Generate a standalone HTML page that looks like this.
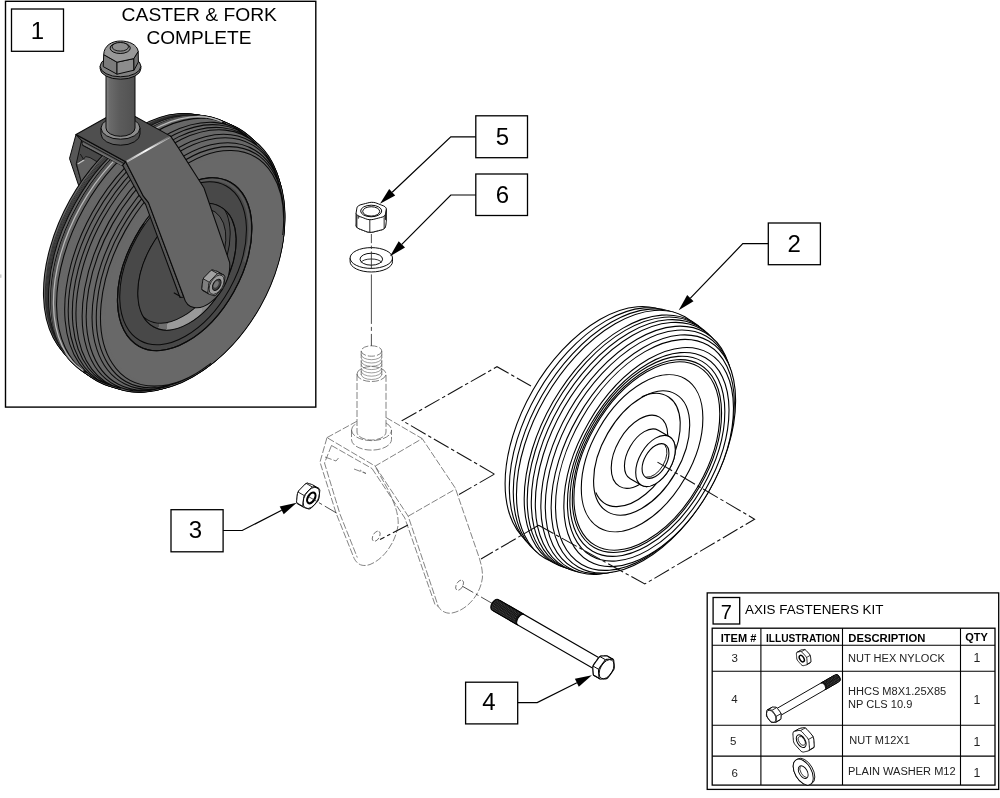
<!DOCTYPE html>
<html><head><meta charset="utf-8"><title>Caster &amp; Fork</title>
<style>
html,body{margin:0;padding:0;background:#fff;}
body{width:1000px;height:798px;overflow:hidden;}
svg{display:block;font-family:"Liberation Sans",sans-serif;}
svg{filter:grayscale(1);}
</style></head><body>
<svg width="1000" height="798" viewBox="0 0 1000 798">
<rect width="1000" height="798" fill="#fff"/>
<rect x="5.5" y="1.3" width="310.3" height="405.8" fill="#fff" stroke="#000" stroke-width="1.4"/>
<g fill="#fff" stroke="#000" stroke-width="1.1">
<ellipse cx="599.81" cy="428.85" rx="134.00" ry="77.32" transform="rotate(-60.00 599.81 428.85)" />
<ellipse cx="605.79" cy="432.30" rx="136.50" ry="78.76" transform="rotate(-60.00 605.79 432.30)" />
<ellipse cx="611.16" cy="435.40" rx="138.50" ry="79.91" transform="rotate(-60.00 611.16 435.40)" />
<ellipse cx="615.14" cy="437.70" rx="139.60" ry="80.55" transform="rotate(-60.00 615.14 437.70)" />
<ellipse cx="622.59" cy="442.00" rx="139.20" ry="80.32" transform="rotate(-60.00 622.59 442.00)" />
<ellipse cx="625.19" cy="443.50" rx="138.60" ry="79.97" transform="rotate(-60.00 625.19 443.50)" />
<ellipse cx="628.83" cy="445.60" rx="138.00" ry="79.63" transform="rotate(-60.00 628.83 445.60)" />
<ellipse cx="632.29" cy="447.60" rx="137.20" ry="79.16" transform="rotate(-60.00 632.29 447.60)" />
<ellipse cx="636.97" cy="450.30" rx="136.00" ry="78.47" transform="rotate(-60.00 636.97 450.30)" />
<ellipse cx="639.65" cy="451.85" rx="133.50" ry="77.03" transform="rotate(-60.00 639.65 451.85)" />
<ellipse cx="643.38" cy="454.00" rx="130.50" ry="75.30" transform="rotate(-60.00 643.38 454.00)" />
<ellipse cx="644.93" cy="454.90" rx="126.50" ry="72.99" transform="rotate(-60.00 644.93 454.90)" />
<ellipse cx="648.66" cy="457.05" rx="120.00" ry="69.24" transform="rotate(-60.00 648.66 457.05)" />
<ellipse cx="648.23" cy="456.80" rx="114.30" ry="65.95" transform="rotate(-60.00 648.23 456.80)" />
<ellipse cx="647.36" cy="456.30" rx="109.60" ry="63.24" transform="rotate(-60.00 647.36 456.30)" />
<ellipse cx="646.93" cy="456.05" rx="105.60" ry="60.93" transform="rotate(-60.00 646.93 456.05)" />
<ellipse cx="646.84" cy="456.00" rx="103.20" ry="59.55" transform="rotate(-60.00 646.84 456.00)" />
<ellipse cx="642.08" cy="453.25" rx="86.00" ry="49.62" transform="rotate(-60.00 642.08 453.25)" />
<ellipse cx="641.64" cy="453.00" rx="68.00" ry="39.24" transform="rotate(-60.00 641.64 453.00)" />
<path d="M641.80 396.68 A62.00 35.77 -60.00 1 1 595.81 492.44 " fill="none"/>
<ellipse cx="639.48" cy="451.75" rx="40.00" ry="23.08" transform="rotate(-60.00 639.48 451.75)" />
<path d="M658.24 430.25 A28.00 16.16 -60.00 0 0 630.24 478.75 L641.50 485.25 A28.00 16.16 -60.00 0 0 669.50 436.75 Z"/>
<ellipse cx="655.50" cy="461.00" rx="28.00" ry="16.16" transform="rotate(-60.00 655.50 461.00)" />
<ellipse cx="655.50" cy="461.00" rx="19.00" ry="10.96" transform="rotate(-60.00 655.50 461.00)" />
<path d="M664.77 444.89 A19.00 10.96 -60.00 0 1 646.19 477.08 " fill="none" stroke-width="0.9"/>
</g>
<defs><linearGradient id="bev" gradientUnits="userSpaceOnUse" x1="150" y1="300" x2="215" y2="312"><stop offset="0" stop-color="#4c4d50"/><stop offset="0.2" stop-color="#4c4d50"/><stop offset="0.2" stop-color="#6e6f72"/><stop offset="0.325" stop-color="#6e6f72"/><stop offset="0.325" stop-color="#999a9d"/><stop offset="0.8" stop-color="#98999c"/><stop offset="0.8" stop-color="#88898c"/><stop offset="0.97" stop-color="#88898c"/><stop offset="0.97" stop-color="#4c4d50"/><stop offset="1" stop-color="#4c4d50"/></linearGradient><clipPath id="dishclip"><ellipse cx="187.00" cy="266.80" rx="68.70" ry="41.22" transform="rotate(-60.80 187.00 266.80)" /></clipPath></defs>
<g id="caster">
<path d="M76 134.5 L69.5 158.5 L79.5 188 L100 186 L124 166 L125.7 161.7 Z" fill="#56575a" stroke="#0a0a0a" stroke-width="1"/>
<path d="M81.5 140.5 L124 163.5 L122 166 L100 184 L81.5 182.5 L76.2 164 Z" fill="#47484b" stroke="#0a0a0a" stroke-width="0.9"/>
<path d="M82.6 143.6 L121 164.6" fill="none" stroke="#707174" stroke-width="1.6"/>
<path d="M82.9 145.4 L119 165.4" fill="none" stroke="#0a0a0a" stroke-width="0.7"/>
<path d="M76.5 164 L81.5 182.5 L95 180 L100 163.5 L90 157.6 L85.6 156.6 L83.5 159.3 Z" fill="#5f6063" stroke="#0a0a0a" stroke-width="0.8"/>
<path d="M77 163.4 L83.5 159.5 L84.6 160.6 L78.5 164.3 Z" fill="#bbbcbe" stroke="none"/>
<path d="M80.3 154 L83.5 159.3" fill="none" stroke="#0a0a0a" stroke-width="0.8"/>
<ellipse cx="142.50" cy="240.62" rx="137.00" ry="82.20" transform="rotate(-60.80 142.50 240.62)" fill="#0a0a0a" stroke="#0a0a0a" stroke-width="3.0"/>
<ellipse cx="143.82" cy="241.35" rx="137.58" ry="82.55" transform="rotate(-60.80 143.82 241.35)" fill="#0a0a0a" stroke="#0a0a0a" stroke-width="3.0"/>
<ellipse cx="145.14" cy="242.09" rx="138.17" ry="82.90" transform="rotate(-60.80 145.14 242.09)" fill="#0a0a0a" stroke="#0a0a0a" stroke-width="3.0"/>
<ellipse cx="146.46" cy="242.83" rx="138.75" ry="83.25" transform="rotate(-60.80 146.46 242.83)" fill="#0a0a0a" stroke="#0a0a0a" stroke-width="3.0"/>
<ellipse cx="147.78" cy="243.57" rx="139.33" ry="83.60" transform="rotate(-60.80 147.78 243.57)" fill="#0a0a0a" stroke="#0a0a0a" stroke-width="3.0"/>
<ellipse cx="149.10" cy="244.31" rx="139.92" ry="83.95" transform="rotate(-60.80 149.10 244.31)" fill="#0a0a0a" stroke="#0a0a0a" stroke-width="3.0"/>
<ellipse cx="150.42" cy="245.04" rx="140.50" ry="84.30" transform="rotate(-60.80 150.42 245.04)" fill="#0a0a0a" stroke="#0a0a0a" stroke-width="3.0"/>
<ellipse cx="151.74" cy="245.78" rx="141.08" ry="84.65" transform="rotate(-60.80 151.74 245.78)" fill="#0a0a0a" stroke="#0a0a0a" stroke-width="3.0"/>
<ellipse cx="153.06" cy="246.52" rx="141.67" ry="85.00" transform="rotate(-60.80 153.06 246.52)" fill="#0a0a0a" stroke="#0a0a0a" stroke-width="3.0"/>
<ellipse cx="154.38" cy="247.26" rx="142.25" ry="85.35" transform="rotate(-60.80 154.38 247.26)" fill="#0a0a0a" stroke="#0a0a0a" stroke-width="3.0"/>
<ellipse cx="155.70" cy="248.00" rx="142.51" ry="85.50" transform="rotate(-60.80 155.70 248.00)" fill="#0a0a0a" stroke="#0a0a0a" stroke-width="3.0"/>
<ellipse cx="157.02" cy="248.73" rx="142.65" ry="85.59" transform="rotate(-60.80 157.02 248.73)" fill="#0a0a0a" stroke="#0a0a0a" stroke-width="3.0"/>
<ellipse cx="158.34" cy="249.47" rx="142.79" ry="85.67" transform="rotate(-60.80 158.34 249.47)" fill="#0a0a0a" stroke="#0a0a0a" stroke-width="3.0"/>
<ellipse cx="159.67" cy="250.21" rx="142.93" ry="85.76" transform="rotate(-60.80 159.67 250.21)" fill="#0a0a0a" stroke="#0a0a0a" stroke-width="3.0"/>
<ellipse cx="160.99" cy="250.95" rx="143.07" ry="85.84" transform="rotate(-60.80 160.99 250.95)" fill="#0a0a0a" stroke="#0a0a0a" stroke-width="3.0"/>
<ellipse cx="162.31" cy="251.69" rx="143.21" ry="85.93" transform="rotate(-60.80 162.31 251.69)" fill="#0a0a0a" stroke="#0a0a0a" stroke-width="3.0"/>
<ellipse cx="163.63" cy="252.42" rx="143.35" ry="86.01" transform="rotate(-60.80 163.63 252.42)" fill="#0a0a0a" stroke="#0a0a0a" stroke-width="3.0"/>
<ellipse cx="164.95" cy="253.16" rx="143.49" ry="86.10" transform="rotate(-60.80 164.95 253.16)" fill="#0a0a0a" stroke="#0a0a0a" stroke-width="3.0"/>
<ellipse cx="166.27" cy="253.90" rx="143.63" ry="86.18" transform="rotate(-60.80 166.27 253.90)" fill="#0a0a0a" stroke="#0a0a0a" stroke-width="3.0"/>
<ellipse cx="167.59" cy="254.64" rx="143.78" ry="86.27" transform="rotate(-60.80 167.59 254.64)" fill="#0a0a0a" stroke="#0a0a0a" stroke-width="3.0"/>
<ellipse cx="168.91" cy="255.38" rx="143.52" ry="86.11" transform="rotate(-60.80 168.91 255.38)" fill="#0a0a0a" stroke="#0a0a0a" stroke-width="3.0"/>
<ellipse cx="170.23" cy="256.12" rx="143.19" ry="85.91" transform="rotate(-60.80 170.23 256.12)" fill="#0a0a0a" stroke="#0a0a0a" stroke-width="3.0"/>
<ellipse cx="171.55" cy="256.85" rx="142.86" ry="85.71" transform="rotate(-60.80 171.55 256.85)" fill="#0a0a0a" stroke="#0a0a0a" stroke-width="3.0"/>
<ellipse cx="172.87" cy="257.59" rx="142.53" ry="85.52" transform="rotate(-60.80 172.87 257.59)" fill="#0a0a0a" stroke="#0a0a0a" stroke-width="3.0"/>
<ellipse cx="174.19" cy="258.33" rx="142.19" ry="85.32" transform="rotate(-60.80 174.19 258.33)" fill="#0a0a0a" stroke="#0a0a0a" stroke-width="3.0"/>
<ellipse cx="175.51" cy="259.07" rx="141.86" ry="85.12" transform="rotate(-60.80 175.51 259.07)" fill="#0a0a0a" stroke="#0a0a0a" stroke-width="3.0"/>
<ellipse cx="176.83" cy="259.81" rx="141.53" ry="84.92" transform="rotate(-60.80 176.83 259.81)" fill="#0a0a0a" stroke="#0a0a0a" stroke-width="3.0"/>
<ellipse cx="178.15" cy="260.54" rx="141.19" ry="84.72" transform="rotate(-60.80 178.15 260.54)" fill="#0a0a0a" stroke="#0a0a0a" stroke-width="3.0"/>
<ellipse cx="179.47" cy="261.28" rx="140.86" ry="84.52" transform="rotate(-60.80 179.47 261.28)" fill="#0a0a0a" stroke="#0a0a0a" stroke-width="3.0"/>
<ellipse cx="180.79" cy="262.02" rx="140.53" ry="84.32" transform="rotate(-60.80 180.79 262.02)" fill="#0a0a0a" stroke="#0a0a0a" stroke-width="3.0"/>
<ellipse cx="182.11" cy="262.76" rx="139.35" ry="83.61" transform="rotate(-60.80 182.11 262.76)" fill="#0a0a0a" stroke="#0a0a0a" stroke-width="3.0"/>
<ellipse cx="183.44" cy="263.50" rx="138.09" ry="82.85" transform="rotate(-60.80 183.44 263.50)" fill="#0a0a0a" stroke="#0a0a0a" stroke-width="3.0"/>
<ellipse cx="184.76" cy="264.23" rx="136.82" ry="82.09" transform="rotate(-60.80 184.76 264.23)" fill="#0a0a0a" stroke="#0a0a0a" stroke-width="3.0"/>
<ellipse cx="186.08" cy="264.97" rx="135.56" ry="81.34" transform="rotate(-60.80 186.08 264.97)" fill="#0a0a0a" stroke="#0a0a0a" stroke-width="3.0"/>
<ellipse cx="187.40" cy="265.71" rx="134.30" ry="80.58" transform="rotate(-60.80 187.40 265.71)" fill="#0a0a0a" stroke="#0a0a0a" stroke-width="3.0"/>
<ellipse cx="188.72" cy="266.45" rx="133.04" ry="79.83" transform="rotate(-60.80 188.72 266.45)" fill="#0a0a0a" stroke="#0a0a0a" stroke-width="3.0"/>
<ellipse cx="190.04" cy="267.19" rx="131.05" ry="78.63" transform="rotate(-60.80 190.04 267.19)" fill="#0a0a0a" stroke="#0a0a0a" stroke-width="3.0"/>
<ellipse cx="191.36" cy="267.92" rx="129.03" ry="77.42" transform="rotate(-60.80 191.36 267.92)" fill="#0a0a0a" stroke="#0a0a0a" stroke-width="3.0"/>
<ellipse cx="192.68" cy="268.66" rx="127.02" ry="76.21" transform="rotate(-60.80 192.68 268.66)" fill="#0a0a0a" stroke="#0a0a0a" stroke-width="3.0"/>
<ellipse cx="194.00" cy="269.40" rx="125.00" ry="75.00" transform="rotate(-60.80 194.00 269.40)" fill="#0a0a0a" stroke="#0a0a0a" stroke-width="3.0"/>
<ellipse cx="142.50" cy="240.62" rx="137.00" ry="82.20" transform="rotate(-60.80 142.50 240.62)" fill="#67686b" stroke="#67686b" stroke-width="0.9"/>
<ellipse cx="143.82" cy="241.35" rx="137.58" ry="82.55" transform="rotate(-60.80 143.82 241.35)" fill="#67686b" stroke="#67686b" stroke-width="0.9"/>
<ellipse cx="145.14" cy="242.09" rx="138.17" ry="82.90" transform="rotate(-60.80 145.14 242.09)" fill="#67686b" stroke="#67686b" stroke-width="0.9"/>
<ellipse cx="146.46" cy="242.83" rx="138.75" ry="83.25" transform="rotate(-60.80 146.46 242.83)" fill="#67686b" stroke="#67686b" stroke-width="0.9"/>
<ellipse cx="147.78" cy="243.57" rx="139.33" ry="83.60" transform="rotate(-60.80 147.78 243.57)" fill="#67686b" stroke="#67686b" stroke-width="0.9"/>
<ellipse cx="149.10" cy="244.31" rx="139.92" ry="83.95" transform="rotate(-60.80 149.10 244.31)" fill="#67686b" stroke="#67686b" stroke-width="0.9"/>
<ellipse cx="150.42" cy="245.04" rx="140.50" ry="84.30" transform="rotate(-60.80 150.42 245.04)" fill="#67686b" stroke="#67686b" stroke-width="0.9"/>
<ellipse cx="151.74" cy="245.78" rx="141.08" ry="84.65" transform="rotate(-60.80 151.74 245.78)" fill="#67686b" stroke="#67686b" stroke-width="0.9"/>
<ellipse cx="153.06" cy="246.52" rx="141.67" ry="85.00" transform="rotate(-60.80 153.06 246.52)" fill="#67686b" stroke="#67686b" stroke-width="0.9"/>
<ellipse cx="154.38" cy="247.26" rx="142.25" ry="85.35" transform="rotate(-60.80 154.38 247.26)" fill="#67686b" stroke="#67686b" stroke-width="0.9"/>
<ellipse cx="155.70" cy="248.00" rx="142.51" ry="85.50" transform="rotate(-60.80 155.70 248.00)" fill="#67686b" stroke="#67686b" stroke-width="0.9"/>
<ellipse cx="157.02" cy="248.73" rx="142.65" ry="85.59" transform="rotate(-60.80 157.02 248.73)" fill="#67686b" stroke="#67686b" stroke-width="0.9"/>
<ellipse cx="158.34" cy="249.47" rx="142.79" ry="85.67" transform="rotate(-60.80 158.34 249.47)" fill="#67686b" stroke="#67686b" stroke-width="0.9"/>
<ellipse cx="159.67" cy="250.21" rx="142.93" ry="85.76" transform="rotate(-60.80 159.67 250.21)" fill="#67686b" stroke="#67686b" stroke-width="0.9"/>
<ellipse cx="160.99" cy="250.95" rx="143.07" ry="85.84" transform="rotate(-60.80 160.99 250.95)" fill="#67686b" stroke="#67686b" stroke-width="0.9"/>
<ellipse cx="162.31" cy="251.69" rx="143.21" ry="85.93" transform="rotate(-60.80 162.31 251.69)" fill="#67686b" stroke="#67686b" stroke-width="0.9"/>
<ellipse cx="163.63" cy="252.42" rx="143.35" ry="86.01" transform="rotate(-60.80 163.63 252.42)" fill="#67686b" stroke="#67686b" stroke-width="0.9"/>
<ellipse cx="164.95" cy="253.16" rx="143.49" ry="86.10" transform="rotate(-60.80 164.95 253.16)" fill="#67686b" stroke="#67686b" stroke-width="0.9"/>
<ellipse cx="166.27" cy="253.90" rx="143.63" ry="86.18" transform="rotate(-60.80 166.27 253.90)" fill="#67686b" stroke="#67686b" stroke-width="0.9"/>
<ellipse cx="167.59" cy="254.64" rx="143.78" ry="86.27" transform="rotate(-60.80 167.59 254.64)" fill="#67686b" stroke="#67686b" stroke-width="0.9"/>
<ellipse cx="168.91" cy="255.38" rx="143.52" ry="86.11" transform="rotate(-60.80 168.91 255.38)" fill="#67686b" stroke="#67686b" stroke-width="0.9"/>
<ellipse cx="170.23" cy="256.12" rx="143.19" ry="85.91" transform="rotate(-60.80 170.23 256.12)" fill="#67686b" stroke="#67686b" stroke-width="0.9"/>
<ellipse cx="171.55" cy="256.85" rx="142.86" ry="85.71" transform="rotate(-60.80 171.55 256.85)" fill="#67686b" stroke="#67686b" stroke-width="0.9"/>
<ellipse cx="172.87" cy="257.59" rx="142.53" ry="85.52" transform="rotate(-60.80 172.87 257.59)" fill="#67686b" stroke="#67686b" stroke-width="0.9"/>
<ellipse cx="174.19" cy="258.33" rx="142.19" ry="85.32" transform="rotate(-60.80 174.19 258.33)" fill="#67686b" stroke="#67686b" stroke-width="0.9"/>
<ellipse cx="175.51" cy="259.07" rx="141.86" ry="85.12" transform="rotate(-60.80 175.51 259.07)" fill="#67686b" stroke="#67686b" stroke-width="0.9"/>
<ellipse cx="176.83" cy="259.81" rx="141.53" ry="84.92" transform="rotate(-60.80 176.83 259.81)" fill="#67686b" stroke="#67686b" stroke-width="0.9"/>
<ellipse cx="178.15" cy="260.54" rx="141.19" ry="84.72" transform="rotate(-60.80 178.15 260.54)" fill="#67686b" stroke="#67686b" stroke-width="0.9"/>
<ellipse cx="179.47" cy="261.28" rx="140.86" ry="84.52" transform="rotate(-60.80 179.47 261.28)" fill="#67686b" stroke="#67686b" stroke-width="0.9"/>
<ellipse cx="180.79" cy="262.02" rx="140.53" ry="84.32" transform="rotate(-60.80 180.79 262.02)" fill="#67686b" stroke="#67686b" stroke-width="0.9"/>
<ellipse cx="182.11" cy="262.76" rx="139.35" ry="83.61" transform="rotate(-60.80 182.11 262.76)" fill="#67686b" stroke="#67686b" stroke-width="0.9"/>
<ellipse cx="183.44" cy="263.50" rx="138.09" ry="82.85" transform="rotate(-60.80 183.44 263.50)" fill="#67686b" stroke="#67686b" stroke-width="0.9"/>
<ellipse cx="184.76" cy="264.23" rx="136.82" ry="82.09" transform="rotate(-60.80 184.76 264.23)" fill="#67686b" stroke="#67686b" stroke-width="0.9"/>
<ellipse cx="186.08" cy="264.97" rx="135.56" ry="81.34" transform="rotate(-60.80 186.08 264.97)" fill="#67686b" stroke="#67686b" stroke-width="0.9"/>
<ellipse cx="187.40" cy="265.71" rx="134.30" ry="80.58" transform="rotate(-60.80 187.40 265.71)" fill="#67686b" stroke="#67686b" stroke-width="0.9"/>
<ellipse cx="188.72" cy="266.45" rx="133.04" ry="79.83" transform="rotate(-60.80 188.72 266.45)" fill="#67686b" stroke="#67686b" stroke-width="0.9"/>
<ellipse cx="190.04" cy="267.19" rx="131.05" ry="78.63" transform="rotate(-60.80 190.04 267.19)" fill="#67686b" stroke="#67686b" stroke-width="0.9"/>
<ellipse cx="191.36" cy="267.92" rx="129.03" ry="77.42" transform="rotate(-60.80 191.36 267.92)" fill="#67686b" stroke="#67686b" stroke-width="0.9"/>
<ellipse cx="192.68" cy="268.66" rx="127.02" ry="76.21" transform="rotate(-60.80 192.68 268.66)" fill="#67686b" stroke="#67686b" stroke-width="0.9"/>
<ellipse cx="194.00" cy="269.40" rx="125.00" ry="75.00" transform="rotate(-60.80 194.00 269.40)" fill="#67686b" stroke="#67686b" stroke-width="0.9"/>
<path d="M66.57 354.61 A139.60 83.76 -60.80 0 1 199.81 116.21 M68.99 357.59 A141.05 84.63 -60.80 0 1 203.61 116.72 M86.61 372.92 A142.84 85.71 -60.80 0 1 225.90 123.69 M107.15 384.34 A143.78 86.27 -60.80 0 1 92.29 212.56 A143.78 86.27 -60.80 0 1 246.39 135.20 M113.43 386.27 A143.09 85.85 -60.80 0 1 95.71 214.47 A143.09 85.85 -60.80 0 1 251.32 139.54 M117.27 387.42 A142.21 85.32 -60.80 0 1 99.66 216.68 A142.21 85.32 -60.80 0 1 254.31 142.21 M120.63 388.43 A141.44 84.86 -60.80 0 1 103.12 218.61 A141.44 84.86 -60.80 0 1 256.94 144.54 M161.30 388.06 A139.46 83.67 -60.80 0 1 108.96 221.87 A139.46 83.67 -60.80 0 1 277.93 179.37 M164.04 387.35 A137.17 82.30 -60.80 0 1 112.56 223.88 A137.17 82.30 -60.80 0 1 278.76 182.08 M169.66 385.82 A133.83 80.30 -60.80 0 1 117.79 226.81 A133.83 80.30 -60.80 0 1 280.41 187.67 M208.01 365.44 A131.00 78.60 -60.80 0 1 121.46 228.86 A131.00 78.60 -60.80 0 1 283.14 231.01 M211.17 363.06 A127.93 76.76 -60.80 0 1 125.07 230.88 A127.93 76.76 -60.80 0 1 282.77 234.95 " fill="none" stroke="#0a0a0a" stroke-width="1.05"/>
<path d="M71.38 360.40 A141.86 85.12 -60.80 0 1 207.26 117.28 " fill="none" stroke="#55565a" stroke-width="2.3"/>
<path d="M63.11 350.37 A137.54 82.52 -60.80 0 1 194.38 115.49 M64.01 351.48 A138.08 82.85 -60.80 0 1 195.80 115.68 M64.92 352.59 A138.62 83.17 -60.80 0 1 197.22 115.87 M65.76 353.62 A139.12 83.47 -60.80 0 1 198.54 116.04 " fill="none" stroke="#1c1c1e" stroke-width="0.7"/>
<path d="M83.31 370.65 A142.47 85.48 -60.80 0 1 222.23 122.07 " fill="none" stroke="#b9babc" stroke-width="1.2"/>
<ellipse cx="184.66" cy="264.18" rx="93.90" ry="56.34" transform="rotate(-60.80 184.66 264.18)" fill="#48484b" stroke="#0a0a0a" stroke-width="1.1"/>
<path d="M176.02 191.90 A91.60 54.96 -60.80 0 1 244.42 261.69 " fill="none" stroke="#58595c" stroke-width="2.4"/>
<path d="M144.56 223.55 A91.60 54.96 -60.80 0 1 176.02 191.90 " fill="none" stroke="#88898c" stroke-width="2.4"/>
<ellipse cx="184.66" cy="264.18" rx="93.90" ry="56.34" transform="rotate(-60.80 184.66 264.18)" fill="none" stroke="#0a0a0a" stroke-width="1.1"/>
<ellipse cx="183.09" cy="263.30" rx="88.50" ry="53.10" transform="rotate(-60.80 183.09 263.30)" fill="#48484b" stroke="#0a0a0a" stroke-width="1"/>
<path d="M220.52 206.83 A68.70 41.22 -60.80 0 1 153.48 326.77 A68.70 41.22 -60.80 0 1 220.52 206.83 Z" fill="#4c4d50" stroke="#0a0a0a" stroke-width="1"/>
<clipPath id="bevclip"><rect x="130" y="293" width="86" height="50"/></clipPath>
<path d="M220.52 206.83 A68.70 41.22 -60.80 0 1 153.48 326.77 A68.70 41.22 -60.80 0 1 220.52 206.83 Z" fill="url(#bev)" stroke="none" clip-path="url(#bevclip)"/>
<g clip-path="url(#dishclip)"><ellipse cx="181.00" cy="259.80" rx="68.70" ry="41.22" transform="rotate(-60.80 181.00 259.80)" fill="#4b4b4e" stroke="#0a0a0a" stroke-width="0.9"/><path d="M164.11 234.34 A53.80 32.28 -60.80 1 1 204.80 288.86 " fill="#56575a" stroke="#0a0a0a" stroke-width="0.9"/></g>
<ellipse cx="187.00" cy="266.80" rx="68.70" ry="41.22" transform="rotate(-60.80 187.00 266.80)" fill="none" stroke="#0a0a0a" stroke-width="1"/>
</g>
<g id="fork" stroke="#0a0a0a" stroke-width="1.05" stroke-linejoin="round">
<path d="M125.7 161.7 L143.4 196.2 L148.5 202.6 L183.8 297.0 L180.0 297.5 L145.6 204.4 L138.6 194.6 L122.5 165 Z" fill="#57585b"/>
<path d="M125.7 161.7 L170.6 136.1 L178.6 148.1 L204 188 L229.6 262.3 A32.40 19.44 -60.00 0 1 183.84 297.04 L148.5 202.6 L143.4 196.2 Z" fill="#646568"/>
<path d="M173.8 292.8 L180.4 296.5" fill="none"/>
<path d="M76 134.5 L125.7 161.7 L122.3 165.6 L82.9 145.4 L81.5 140.5 Z" fill="#56575a"/>
<path d="M81.5 140.5 L124 163.5" fill="none" stroke-width="0.8"/>
<path d="M82.6 143.4 L122 164.9" fill="none" stroke="#707174" stroke-width="1.5"/>
<path d="M76 134.5 L121.5 109 L170.6 136.1 L125.7 161.7 Z" fill="#4f4f52"/>
</g>
<defs><linearGradient id="hl" gradientUnits="userSpaceOnUse" x1="125.7" y1="161.7" x2="170.6" y2="136.4"><stop offset="0" stop-color="#fff" stop-opacity="0.55"/><stop offset="0.45" stop-color="#fff" stop-opacity="1"/><stop offset="1" stop-color="#fff" stop-opacity="0.35"/></linearGradient></defs>
<path d="M126.5 161.6 L170 136.8" stroke="url(#hl)" stroke-width="2.1" fill="none"/>
<defs>
<linearGradient id="stemg" x1="0" x2="1" y1="0" y2="0"><stop offset="0" stop-color="#85868a"/><stop offset="0.12" stop-color="#6a6b6e"/><stop offset="0.45" stop-color="#5b5c5f"/><stop offset="1" stop-color="#505154"/></linearGradient>
<linearGradient id="colg" x1="0" x2="1" y1="0" y2="0"><stop offset="0" stop-color="#6c6d70"/><stop offset="0.5" stop-color="#5a5b5e"/><stop offset="1" stop-color="#4c4d50"/></linearGradient>
</defs>
<g id="stem" stroke="#0a0a0a" stroke-width="1">
<path d="M101.0 128 L101.0 134 A19.5 11.2 0 0 0 140.0 134 L140.0 128 Z" fill="url(#colg)"/>
<ellipse cx="120.5" cy="128" rx="19.5" ry="11.2" fill="#8b8c8f"/>
<path d="M106.0 70 L106.0 128 A14.5 8.3 0 0 0 135.0 128 L135.0 70 Z" fill="url(#stemg)"/>
<path d="M100.1 66.2 L100.1 68.6 A20.4 10.6 0 0 0 140.9 68.6 L140.9 66.2 Z" fill="#6f7073"/>
<ellipse cx="120.5" cy="66.2" rx="20.4" ry="10.6" fill="#808184"/>
<path d="M103.2 66.6 L103.7 54.6 L117 62.2 L117 74.2 Z" fill="#7a7b7e"/>
<path d="M117 74.2 L117 62.2 L133.8 58.6 L134 70.2 Z" fill="#8b8c8f"/>
<path d="M134 70.2 L133.8 58.6 L138.2 51.4 L138.4 62 Z" fill="#707174"/>
<path d="M103.7 54.6 C104 45.5 112 41 120.5 41 C129 41 137.2 44.6 138.2 51.4 L133.8 58.6 L117 62.2 Z" fill="#97989b"/>
<ellipse cx="120.2" cy="48.1" rx="10.1" ry="5.4" fill="#8a8b8e"/>
<ellipse cx="120.3" cy="46.8" rx="8.2" ry="4.3" fill="#8d8e91" stroke-width="0.9"/>
</g>
<g id="phantomfork" stroke="#5a5a5a" stroke-width="0.75" fill="none" stroke-dasharray="7 2">
<ellipse cx="371.5" cy="351" rx="10.3" ry="5.2"/>
<path d="M361.2 351 V375 M381.8 351 V375"/>
<path d="M361.2 354.5 A10.3 5.2 0 0 0 381.8 354.5 M361.2 357.8 A10.3 5.2 0 0 0 381.8 357.8 M361.2 361.1 A10.3 5.2 0 0 0 381.8 361.1 M361.2 364.4 A10.3 5.2 0 0 0 381.8 364.4 M361.2 367.7 A10.3 5.2 0 0 0 381.8 367.7 M361.2 371.0 A10.3 5.2 0 0 0 381.8 371.0 M361.2 374.3 A10.3 5.2 0 0 0 381.8 374.3 " stroke-dasharray="none" stroke-width="0.6"/>
<path d="M357.0 374 A14.5 7.5 0 0 1 386.0 374 M357.0 374 V432 A14.5 8 0 0 0 386.0 432 V374 M357.0 374 A14.5 7.5 0 0 0 386.0 374"/>
<path d="M351.5 430 A20 10.6 0 0 0 391.5 430 M351.5 430 V439.5 A20 10.6 0 0 0 391.5 439.5 V430 M351.5 430 A20 10.6 0 0 1 357.0 423 M386.0 423 A20 10.6 0 0 1 391.5 430"/>
<path d="M327 437.6 L357 421.2 M386.2 417.6 L422.2 438.6 L375.2 466.1 L327 437.6"/>
<path d="M331.5 445.5 L372 468.5"/>
<path d="M327 437.6 L320 462.1 L336.1 513.2 L354.1 558.3 C358 566 364 566.5 370 564.5 C384 559 396 542 398.2 524.2 C398.5 513 394 502 388.2 490.1 L375.2 466.5"/>
<path d="M331.5 445.5 L324.5 463 L340 514.2 L357.3 557.5"/>
<path d="M325 457 L336 461 L338.5 458 M354 469 L366 473.5 L360 470"/>
<path d="M375.2 466.1 L408.2 516.2 L438.2 606.3 C441 611.5 447 614 452 613 C466 610.5 480 596 482.4 578 C482.8 572 481.5 565 479.4 558.3 L455.3 488.1 L422.2 438.6"/>
<path d="M372 468.5 L404.8 518 L435 604.5 L438.2 606.3"/>
<path d="M408.2 516.2 L455.6 489"/>
<ellipse cx="459.60" cy="585.20" rx="5.60" ry="3.23" transform="rotate(-60.00 459.60 585.20)" stroke-dasharray="5 2"/>
<ellipse cx="376.20" cy="536.20" rx="5.60" ry="3.23" transform="rotate(-60.00 376.20 536.20)" stroke-dasharray="5 2"/>
</g>
<g id="axlenut">
<path d="M216.14 271.05 L217.01 271.33 L217.94 271.64 L218.57 272.41 L218.88 273.52 L218.72 274.99 L218.56 276.35 L218.41 277.66 L218.26 278.97 L218.11 280.33 L217.94 281.78 L217.40 283.28 L216.59 284.71 L215.48 285.87 L214.45 286.95 L213.45 287.99 L212.46 289.02 L211.43 290.10 L210.34 291.24 L209.17 291.97 L208.05 292.29 L207.10 291.98 L206.22 291.70 L205.38 291.42 L204.54 291.15 L203.66 290.87 L202.73 290.56 L202.11 289.79 L201.79 288.68 L201.96 287.21 L202.12 285.85 L202.27 284.54 L202.41 283.23 L202.57 281.87 L202.73 280.42 L203.27 278.92 L204.09 277.49 L205.20 276.33 L206.23 275.25 L207.22 274.21 L208.22 273.18 L209.24 272.10 L210.34 270.96 L211.50 270.23 L212.63 269.91 L213.57 270.22 L214.45 270.50 L215.30 270.78 Z" fill="#7b7c7f" stroke="#0a0a0a" stroke-width="0.90" stroke-linejoin="round"/>
<path d="M224.63 275.91 L224.94 277.02 L218.88 273.52 L218.57 272.41 Z M224.94 277.02 L224.78 278.49 L218.72 274.99 L218.88 273.52 Z M224.78 278.49 L224.62 279.85 L218.56 276.35 L218.72 274.99 Z M224.62 279.85 L224.47 281.16 L218.41 277.66 L218.56 276.35 Z M224.47 281.16 L224.32 282.47 L218.26 278.97 L218.41 277.66 Z M224.32 282.47 L224.17 283.83 L218.11 280.33 L218.26 278.97 Z M224.17 283.83 L224.00 285.28 L217.94 281.78 L218.11 280.33 Z M224.00 285.28 L223.46 286.78 L217.40 283.28 L217.94 281.78 Z " fill="#6a6b6e" stroke="#6a6b6e" stroke-width="0.4"/>
<path d="M223.46 286.78 L222.65 288.21 L216.59 284.71 L217.40 283.28 Z M222.65 288.21 L221.54 289.37 L215.48 285.87 L216.59 284.71 Z M221.54 289.37 L220.51 290.45 L214.45 286.95 L215.48 285.87 Z M220.51 290.45 L219.51 291.49 L213.45 287.99 L214.45 286.95 Z M219.51 291.49 L218.52 292.52 L212.46 289.02 L213.45 287.99 Z M218.52 292.52 L217.50 293.60 L211.43 290.10 L212.46 289.02 Z M217.50 293.60 L216.40 294.74 L210.34 291.24 L211.43 290.10 Z M216.40 294.74 L215.23 295.47 L209.17 291.97 L210.34 291.24 Z " fill="#6a6b6e" stroke="#6a6b6e" stroke-width="0.4"/>
<path d="M215.23 295.47 L214.11 295.79 L208.05 292.29 L209.17 291.97 Z M214.11 295.79 L213.16 295.48 L207.10 291.98 L208.05 292.29 Z M213.16 295.48 L212.29 295.20 L206.22 291.70 L207.10 291.98 Z M212.29 295.20 L211.44 294.92 L205.38 291.42 L206.22 291.70 Z M211.44 294.92 L210.60 294.65 L204.54 291.15 L205.38 291.42 Z M210.60 294.65 L209.73 294.37 L203.66 290.87 L204.54 291.15 Z M209.73 294.37 L208.79 294.06 L202.73 290.56 L203.66 290.87 Z M208.79 294.06 L208.17 293.29 L202.11 289.79 L202.73 290.56 Z " fill="#6c6d70" stroke="#6c6d70" stroke-width="0.4"/>
<path d="M208.17 293.29 L207.86 292.18 L201.79 288.68 L202.11 289.79 Z M207.86 292.18 L208.02 290.71 L201.96 287.21 L201.79 288.68 Z M208.02 290.71 L208.18 289.35 L202.12 285.85 L201.96 287.21 Z M208.18 289.35 L208.33 288.04 L202.27 284.54 L202.12 285.85 Z M208.33 288.04 L208.48 286.73 L202.41 283.23 L202.27 284.54 Z M208.48 286.73 L208.63 285.37 L202.57 281.87 L202.41 283.23 Z M208.63 285.37 L208.80 283.92 L202.73 280.42 L202.57 281.87 Z M208.80 283.92 L209.34 282.42 L203.27 278.92 L202.73 280.42 Z " fill="#7e7f82" stroke="#7e7f82" stroke-width="0.4"/>
<path d="M209.34 282.42 L210.15 280.99 L204.09 277.49 L203.27 278.92 Z M210.15 280.99 L211.26 279.83 L205.20 276.33 L204.09 277.49 Z M211.26 279.83 L212.29 278.75 L206.23 275.25 L205.20 276.33 Z M212.29 278.75 L213.29 277.71 L207.22 274.21 L206.23 275.25 Z M213.29 277.71 L214.28 276.68 L208.22 273.18 L207.22 274.21 Z M214.28 276.68 L215.30 275.60 L209.24 272.10 L208.22 273.18 Z M215.30 275.60 L216.40 274.46 L210.34 270.96 L209.24 272.10 Z M216.40 274.46 L217.57 273.73 L211.50 270.23 L210.34 270.96 Z " fill="#a0a1a4" stroke="#a0a1a4" stroke-width="0.4"/>
<path d="M222.20 274.55 L223.07 274.83 L217.01 271.33 L216.14 271.05 Z M223.07 274.83 L224.01 275.14 L217.94 271.64 L217.01 271.33 Z M224.01 275.14 L224.63 275.91 L218.57 272.41 L217.94 271.64 Z M217.57 273.73 L218.69 273.41 L212.63 269.91 L211.50 270.23 Z M218.69 273.41 L219.64 273.72 L213.57 270.22 L212.63 269.91 Z M219.64 273.72 L220.51 274.00 L214.45 270.50 L213.57 270.22 Z M220.51 274.00 L221.36 274.28 L215.30 270.78 L214.45 270.50 Z M221.36 274.28 L222.20 274.55 L216.14 271.05 L215.30 270.78 Z " fill="#8c8d90" stroke="#8c8d90" stroke-width="0.4"/>
<path d="M217.94 271.64 L217.01 271.33 L216.14 271.05 L215.30 270.78 L214.45 270.50 L213.57 270.22 L212.63 269.91 L211.50 270.23 L210.34 270.96 L209.24 272.10 L208.22 273.18 L207.22 274.21 L206.23 275.25 L205.20 276.33 L204.09 277.49 L203.27 278.92 L202.73 280.42 L202.57 281.87 L202.41 283.23 L202.27 284.54 L202.12 285.85 L201.96 287.21 L201.79 288.68 L202.11 289.79 L202.73 290.56" fill="none" stroke="#0a0a0a" stroke-width="0.90" stroke-linejoin="round"/>
<path d="M224.01 275.14 L217.94 271.64" stroke="#0a0a0a" stroke-width="0.90" fill="none"/>
<path d="M208.79 294.06 L202.73 290.56" stroke="#0a0a0a" stroke-width="0.90" fill="none"/>
<path d="M224.66 275.98 L218.60 272.48 M223.42 286.88 L217.35 283.38 M215.16 295.50 L209.10 292.00 M208.14 293.22 L202.08 289.72 M209.38 282.32 L203.32 278.82 M217.64 273.70 L211.58 270.20 " stroke="#0a0a0a" stroke-width="0.81" fill="none"/>
<path d="M222.20 274.55 L223.07 274.83 L224.01 275.14 L224.63 275.91 L224.94 277.02 L224.78 278.49 L224.62 279.85 L224.47 281.16 L224.32 282.47 L224.17 283.83 L224.00 285.28 L223.46 286.78 L222.65 288.21 L221.54 289.37 L220.51 290.45 L219.51 291.49 L218.52 292.52 L217.50 293.60 L216.40 294.74 L215.23 295.47 L214.11 295.79 L213.16 295.48 L212.29 295.20 L211.44 294.92 L210.60 294.65 L209.73 294.37 L208.79 294.06 L208.17 293.29 L207.86 292.18 L208.02 290.71 L208.18 289.35 L208.33 288.04 L208.48 286.73 L208.63 285.37 L208.80 283.92 L209.34 282.42 L210.15 280.99 L211.26 279.83 L212.29 278.75 L213.29 277.71 L214.28 276.68 L215.30 275.60 L216.40 274.46 L217.57 273.73 L218.69 273.41 L219.64 273.72 L220.51 274.00 L221.36 274.28 Z" fill="#8f9093" stroke="#0a0a0a" stroke-width="0.90" stroke-linejoin="round"/>
<ellipse cx="216.57" cy="284.70" rx="10.60" ry="6.12" transform="rotate(-60.00 216.57 284.70)" fill="#9b9c9f" stroke="#0a0a0a" stroke-width="0.7"/>
<ellipse cx="216.75" cy="284.80" rx="6.10" ry="3.52" transform="rotate(-60.00 216.75 284.80)" fill="#3e3f42" stroke="#0a0a0a" stroke-width="1.0"/>
<ellipse cx="216.14" cy="284.45" rx="3.60" ry="2.08" transform="rotate(-60.00 216.14 284.45)" fill="#77787b" stroke="none"/>
</g>
<g id="hardware">
<path d="M385.98 223.60 L385.81 224.66 L385.64 225.73 L385.46 226.85 L384.89 227.95 L383.74 228.89 L382.28 229.69 L380.38 230.18 L378.59 230.64 L376.84 231.09 L375.07 231.54 L373.21 232.02 L371.20 232.30 L369.14 232.22 L367.15 231.92 L365.43 231.26 L363.81 230.64 L362.23 230.03 L360.63 229.41 L358.95 228.77 L357.51 227.95 L356.59 226.93 L356.07 225.83 L356.25 224.68 L356.42 223.60 L356.59 222.54 L356.76 221.47 L356.94 220.35 L357.51 219.25 L358.66 218.31 L360.12 217.51 L362.02 217.02 L363.81 216.56 L365.56 216.11 L367.33 215.66 L369.19 215.18 L371.20 214.90 L373.26 214.98 L375.25 215.28 L376.97 215.94 L378.59 216.56 L380.17 217.17 L381.77 217.79 L383.45 218.43 L384.89 219.25 L385.81 220.27 L386.33 221.37 L386.15 222.52 Z" fill="#fff" stroke="#000" stroke-width="0.95" stroke-linejoin="round"/>
<path d="M385.98 211.00 L385.81 212.06 L385.81 224.66 L385.98 223.60 Z M385.81 212.06 L385.64 213.13 L385.64 225.73 L385.81 224.66 Z M385.64 213.13 L385.46 214.25 L385.46 226.85 L385.64 225.73 Z M385.46 214.25 L384.89 215.35 L384.89 227.95 L385.46 226.85 Z M384.89 215.35 L383.74 216.29 L383.74 228.89 L384.89 227.95 Z M383.74 216.29 L382.28 217.09 L382.28 229.69 L383.74 228.89 Z M382.28 217.09 L380.38 217.58 L380.38 230.18 L382.28 229.69 Z M380.38 217.58 L378.59 218.04 L378.59 230.64 L380.38 230.18 Z M378.59 218.04 L376.84 218.49 L376.84 231.09 L378.59 230.64 Z M376.84 218.49 L375.07 218.94 L375.07 231.54 L376.84 231.09 Z M375.07 218.94 L373.21 219.42 L373.21 232.02 L375.07 231.54 Z M373.21 219.42 L371.20 219.70 L371.20 232.30 L373.21 232.02 Z M371.20 219.70 L369.14 219.62 L369.14 232.22 L371.20 232.30 Z M369.14 219.62 L367.15 219.32 L367.15 231.92 L369.14 232.22 Z M367.15 219.32 L365.43 218.66 L365.43 231.26 L367.15 231.92 Z M365.43 218.66 L363.81 218.04 L363.81 230.64 L365.43 231.26 Z M363.81 218.04 L362.23 217.43 L362.23 230.03 L363.81 230.64 Z M362.23 217.43 L360.63 216.81 L360.63 229.41 L362.23 230.03 Z M360.63 216.81 L358.95 216.17 L358.95 228.77 L360.63 229.41 Z M358.95 216.17 L357.51 215.35 L357.51 227.95 L358.95 228.77 Z M357.51 215.35 L356.59 214.33 L356.59 226.93 L357.51 227.95 Z M356.59 214.33 L356.07 213.23 L356.07 225.83 L356.59 226.93 Z M356.07 213.23 L356.25 212.08 L356.25 224.68 L356.07 225.83 Z M356.25 212.08 L356.42 211.00 L356.42 223.60 L356.25 224.68 Z M356.42 211.00 L356.59 209.94 L356.59 222.54 L356.42 223.60 Z M356.59 209.94 L356.76 208.87 L356.76 221.47 L356.59 222.54 Z M356.76 208.87 L356.94 207.75 L356.94 220.35 L356.76 221.47 Z M356.94 207.75 L357.51 206.65 L357.51 219.25 L356.94 220.35 Z M357.51 206.65 L358.66 205.71 L358.66 218.31 L357.51 219.25 Z M358.66 205.71 L360.12 204.91 L360.12 217.51 L358.66 218.31 Z M360.12 204.91 L362.02 204.42 L362.02 217.02 L360.12 217.51 Z M362.02 204.42 L363.81 203.96 L363.81 216.56 L362.02 217.02 Z M363.81 203.96 L365.56 203.51 L365.56 216.11 L363.81 216.56 Z M365.56 203.51 L367.33 203.06 L367.33 215.66 L365.56 216.11 Z M367.33 203.06 L369.19 202.58 L369.19 215.18 L367.33 215.66 Z M369.19 202.58 L371.20 202.30 L371.20 214.90 L369.19 215.18 Z M371.20 202.30 L373.26 202.38 L373.26 214.98 L371.20 214.90 Z M373.26 202.38 L375.25 202.68 L375.25 215.28 L373.26 214.98 Z M375.25 202.68 L376.97 203.34 L376.97 215.94 L375.25 215.28 Z M376.97 203.34 L378.59 203.96 L378.59 216.56 L376.97 215.94 Z M378.59 203.96 L380.17 204.57 L380.17 217.17 L378.59 216.56 Z M380.17 204.57 L381.77 205.19 L381.77 217.79 L380.17 217.17 Z M381.77 205.19 L383.45 205.83 L383.45 218.43 L381.77 217.79 Z M383.45 205.83 L384.89 206.65 L384.89 219.25 L383.45 218.43 Z M384.89 206.65 L385.81 207.67 L385.81 220.27 L384.89 219.25 Z M385.81 207.67 L386.33 208.77 L386.33 221.37 L385.81 220.27 Z M386.33 208.77 L386.15 209.92 L386.15 222.52 L386.33 221.37 Z M386.15 209.92 L385.98 211.00 L385.98 223.60 L386.15 222.52 Z " fill="#fff" stroke="#fff" stroke-width="0.4"/>
<path d="M386.33 221.37 L386.15 222.52 L385.98 223.60 L385.81 224.66 L385.64 225.73 L385.46 226.85 L384.89 227.95 L383.74 228.89 L382.28 229.69 L380.38 230.18 L378.59 230.64 L376.84 231.09 L375.07 231.54 L373.21 232.02 L371.20 232.30 L369.14 232.22 L367.15 231.92 L365.43 231.26 L363.81 230.64 L362.23 230.03 L360.63 229.41 L358.95 228.77 L357.51 227.95 L356.59 226.93 L356.07 225.83" fill="none" stroke="#000" stroke-width="0.95" stroke-linejoin="round"/>
<path d="M386.33 208.77 L386.33 221.37" stroke="#000" stroke-width="0.95" fill="none"/>
<path d="M356.07 213.23 L356.07 225.83" stroke="#000" stroke-width="0.95" fill="none"/>
<path d="M384.15 215.99 L384.15 228.59 M369.82 219.66 L369.82 232.26 M356.87 214.67 L356.87 227.27 M358.25 206.01 L358.25 218.61 M372.58 202.34 L372.58 214.94 M385.53 207.33 L385.53 219.93 " stroke="#000" stroke-width="0.85" fill="none"/>
<path d="M385.98 211.00 L385.81 212.06 L385.64 213.13 L385.46 214.25 L384.89 215.35 L383.74 216.29 L382.28 217.09 L380.38 217.58 L378.59 218.04 L376.84 218.49 L375.07 218.94 L373.21 219.42 L371.20 219.70 L369.14 219.62 L367.15 219.32 L365.43 218.66 L363.81 218.04 L362.23 217.43 L360.63 216.81 L358.95 216.17 L357.51 215.35 L356.59 214.33 L356.07 213.23 L356.25 212.08 L356.42 211.00 L356.59 209.94 L356.76 208.87 L356.94 207.75 L357.51 206.65 L358.66 205.71 L360.12 204.91 L362.02 204.42 L363.81 203.96 L365.56 203.51 L367.33 203.06 L369.19 202.58 L371.20 202.30 L373.26 202.38 L375.25 202.68 L376.97 203.34 L378.59 203.96 L380.17 204.57 L381.77 205.19 L383.45 205.83 L384.89 206.65 L385.81 207.67 L386.33 208.77 L386.15 209.92 Z" fill="#fff" stroke="#000" stroke-width="0.95" stroke-linejoin="round"/>
<ellipse cx="371.20" cy="211.00" rx="10.54" ry="5.80" fill="#fff" stroke="#000" stroke-width="0.95"/>
<ellipse cx="371.20" cy="211.40" rx="8.50" ry="4.68" fill="#fff" stroke="#000" stroke-width="0.95"/>
<path d="M350.10 258.00 V261.60 A21.20 10.39 0 0 0 392.50 261.60 V258.00 Z" fill="#fff" stroke="#000" stroke-width="0.95"/>
<ellipse cx="371.30" cy="258.00" rx="21.20" ry="10.39" fill="#fff" stroke="#000" stroke-width="0.95"/>
<ellipse cx="371.30" cy="259.20" rx="11.30" ry="5.98" fill="#fff" stroke="#000" stroke-width="0.95"/>
<path d="M360.79 262.50 A11.30 5.54 0 0 1 381.81 262.50" fill="none" stroke="#000" stroke-width="0.81"/>
<path d="M310.87 484.25 L311.74 484.53 L312.67 484.84 L313.23 485.68 L313.60 486.73 L313.44 488.19 L313.29 489.55 L313.14 490.86 L312.99 492.17 L312.83 493.53 L312.67 494.98 L312.07 496.46 L311.31 497.91 L310.21 499.07 L309.17 500.15 L308.18 501.19 L307.19 502.22 L306.16 503.30 L305.06 504.44 L303.91 505.09 L302.77 505.48 L301.83 505.18 L300.95 504.90 L300.11 504.62 L299.26 504.35 L298.39 504.07 L297.46 503.76 L296.90 502.92 L296.53 501.87 L296.69 500.41 L296.84 499.05 L296.99 497.74 L297.14 496.43 L297.30 495.07 L297.46 493.62 L298.05 492.14 L298.82 490.69 L299.92 489.53 L300.96 488.45 L301.95 487.41 L302.94 486.38 L303.97 485.30 L305.07 484.16 L306.22 483.51 L307.35 483.12 L308.30 483.42 L309.18 483.70 L310.02 483.98 Z" fill="#fff" stroke="#000" stroke-width="0.95" stroke-linejoin="round"/>
<path d="M317.10 487.85 L317.97 488.13 L311.74 484.53 L310.87 484.25 Z M317.97 488.13 L318.91 488.44 L312.67 484.84 L311.74 484.53 Z M318.91 488.44 L319.47 489.28 L313.23 485.68 L312.67 484.84 Z M319.47 489.28 L319.84 490.33 L313.60 486.73 L313.23 485.68 Z M319.84 490.33 L319.68 491.79 L313.44 488.19 L313.60 486.73 Z M319.68 491.79 L319.52 493.15 L313.29 489.55 L313.44 488.19 Z M319.52 493.15 L319.37 494.46 L313.14 490.86 L313.29 489.55 Z M319.37 494.46 L319.22 495.77 L312.99 492.17 L313.14 490.86 Z M319.22 495.77 L319.07 497.13 L312.83 493.53 L312.99 492.17 Z M319.07 497.13 L318.90 498.58 L312.67 494.98 L312.83 493.53 Z M318.90 498.58 L318.31 500.06 L312.07 496.46 L312.67 494.98 Z M318.31 500.06 L317.55 501.51 L311.31 497.91 L312.07 496.46 Z M317.55 501.51 L316.44 502.67 L310.21 499.07 L311.31 497.91 Z M316.44 502.67 L315.41 503.75 L309.17 500.15 L310.21 499.07 Z M315.41 503.75 L314.41 504.79 L308.18 501.19 L309.17 500.15 Z M314.41 504.79 L313.42 505.82 L307.19 502.22 L308.18 501.19 Z M313.42 505.82 L312.40 506.90 L306.16 503.30 L307.19 502.22 Z M312.40 506.90 L311.30 508.04 L305.06 504.44 L306.16 503.30 Z M311.30 508.04 L310.14 508.69 L303.91 505.09 L305.06 504.44 Z M310.14 508.69 L309.01 509.08 L302.77 505.48 L303.91 505.09 Z M309.01 509.08 L308.06 508.78 L301.83 505.18 L302.77 505.48 Z M308.06 508.78 L307.19 508.50 L300.95 504.90 L301.83 505.18 Z M307.19 508.50 L306.34 508.22 L300.11 504.62 L300.95 504.90 Z M306.34 508.22 L305.50 507.95 L299.26 504.35 L300.11 504.62 Z M305.50 507.95 L304.63 507.67 L298.39 504.07 L299.26 504.35 Z M304.63 507.67 L303.69 507.36 L297.46 503.76 L298.39 504.07 Z M303.69 507.36 L303.13 506.52 L296.90 502.92 L297.46 503.76 Z M303.13 506.52 L302.76 505.47 L296.53 501.87 L296.90 502.92 Z M302.76 505.47 L302.92 504.01 L296.69 500.41 L296.53 501.87 Z M302.92 504.01 L303.08 502.65 L296.84 499.05 L296.69 500.41 Z M303.08 502.65 L303.23 501.34 L296.99 497.74 L296.84 499.05 Z M303.23 501.34 L303.38 500.03 L297.14 496.43 L296.99 497.74 Z M303.38 500.03 L303.53 498.67 L297.30 495.07 L297.14 496.43 Z M303.53 498.67 L303.70 497.22 L297.46 493.62 L297.30 495.07 Z M303.70 497.22 L304.29 495.74 L298.05 492.14 L297.46 493.62 Z M304.29 495.74 L305.05 494.29 L298.82 490.69 L298.05 492.14 Z M305.05 494.29 L306.16 493.13 L299.92 489.53 L298.82 490.69 Z M306.16 493.13 L307.19 492.05 L300.96 488.45 L299.92 489.53 Z M307.19 492.05 L308.19 491.01 L301.95 487.41 L300.96 488.45 Z M308.19 491.01 L309.18 489.98 L302.94 486.38 L301.95 487.41 Z M309.18 489.98 L310.20 488.90 L303.97 485.30 L302.94 486.38 Z M310.20 488.90 L311.30 487.76 L305.07 484.16 L303.97 485.30 Z M311.30 487.76 L312.46 487.11 L306.22 483.51 L305.07 484.16 Z M312.46 487.11 L313.59 486.72 L307.35 483.12 L306.22 483.51 Z M313.59 486.72 L314.54 487.02 L308.30 483.42 L307.35 483.12 Z M314.54 487.02 L315.41 487.30 L309.18 483.70 L308.30 483.42 Z M315.41 487.30 L316.26 487.58 L310.02 483.98 L309.18 483.70 Z M316.26 487.58 L317.10 487.85 L310.87 484.25 L310.02 483.98 Z " fill="#fff" stroke="#fff" stroke-width="0.4"/>
<path d="M312.67 484.84 L311.74 484.53 L310.87 484.25 L310.02 483.98 L309.18 483.70 L308.30 483.42 L307.35 483.12 L306.22 483.51 L305.07 484.16 L303.97 485.30 L302.94 486.38 L301.95 487.41 L300.96 488.45 L299.92 489.53 L298.82 490.69 L298.05 492.14 L297.46 493.62 L297.30 495.07 L297.14 496.43 L296.99 497.74 L296.84 499.05 L296.69 500.41 L296.53 501.87 L296.90 502.92 L297.46 503.76" fill="none" stroke="#000" stroke-width="0.95" stroke-linejoin="round"/>
<path d="M318.91 488.44 L312.67 484.84" stroke="#000" stroke-width="0.95" fill="none"/>
<path d="M303.69 507.36 L297.46 503.76" stroke="#000" stroke-width="0.95" fill="none"/>
<path d="M319.50 489.34 L313.26 485.74 M318.26 500.16 L312.03 496.56 M310.07 508.72 L303.83 505.12 M303.10 506.46 L296.87 502.86 M304.34 495.64 L298.10 492.04 M312.53 487.08 L306.30 483.48 " stroke="#000" stroke-width="0.85" fill="none"/>
<path d="M317.10 487.85 L317.97 488.13 L318.91 488.44 L319.47 489.28 L319.84 490.33 L319.68 491.79 L319.52 493.15 L319.37 494.46 L319.22 495.77 L319.07 497.13 L318.90 498.58 L318.31 500.06 L317.55 501.51 L316.44 502.67 L315.41 503.75 L314.41 504.79 L313.42 505.82 L312.40 506.90 L311.30 508.04 L310.14 508.69 L309.01 509.08 L308.06 508.78 L307.19 508.50 L306.34 508.22 L305.50 507.95 L304.63 507.67 L303.69 507.36 L303.13 506.52 L302.76 505.47 L302.92 504.01 L303.08 502.65 L303.23 501.34 L303.38 500.03 L303.53 498.67 L303.70 497.22 L304.29 495.74 L305.05 494.29 L306.16 493.13 L307.19 492.05 L308.19 491.01 L309.18 489.98 L310.20 488.90 L311.30 487.76 L312.46 487.11 L313.59 486.72 L314.54 487.02 L315.41 487.30 L316.26 487.58 Z" fill="#fff" stroke="#000" stroke-width="0.95" stroke-linejoin="round"/>
<ellipse cx="311.30" cy="497.90" rx="11.60" ry="6.69" transform="rotate(-60.00 311.30 497.90)" fill="none" stroke="#000" stroke-width="0.76"/>
<ellipse cx="311.30" cy="497.90" rx="5.90" ry="3.40" transform="rotate(-60.00 311.30 497.90)" fill="#fff" stroke="#000" stroke-width="2.20"/>
<path d="M499.81 600.52 L603.73 660.52 L597.63 671.08 L493.71 611.08 Z" fill="#fff" stroke="#000" stroke-width="1.10" stroke-linejoin="round"/>
<path d="M524.06 614.52 L498.08 599.52 A6.10 3.52 -60.00 0 0 491.98 610.08 L517.96 625.08 A6.10 3.52 -60.00 0 1 524.06 614.52 Z" fill="#161616" stroke="#000" stroke-width="1.10"/>
<path d="M492.82 609.61 A5.61 3.24 -60.00 0 1 498.09 600.48 M494.20 610.41 A5.61 3.24 -60.00 0 1 499.48 601.28 M495.59 611.21 A5.61 3.24 -60.00 0 1 500.86 602.08 M496.98 612.01 A5.61 3.24 -60.00 0 1 502.25 602.88 M498.36 612.81 A5.61 3.24 -60.00 0 1 503.63 603.68 M499.75 613.61 A5.61 3.24 -60.00 0 1 505.02 604.48 M501.13 614.41 A5.61 3.24 -60.00 0 1 506.41 605.28 M502.52 615.21 A5.61 3.24 -60.00 0 1 507.79 606.08 M503.90 616.01 A5.61 3.24 -60.00 0 1 509.18 606.88 M505.29 616.81 A5.61 3.24 -60.00 0 1 510.56 607.68 M506.68 617.61 A5.61 3.24 -60.00 0 1 511.95 608.48 M508.06 618.41 A5.61 3.24 -60.00 0 1 513.33 609.28 M509.45 619.21 A5.61 3.24 -60.00 0 1 514.72 610.08 M510.83 620.01 A5.61 3.24 -60.00 0 1 516.11 610.88 M512.22 620.81 A5.61 3.24 -60.00 0 1 517.49 611.68 M513.60 621.61 A5.61 3.24 -60.00 0 1 518.88 612.48 M514.99 622.41 A5.61 3.24 -60.00 0 1 520.26 613.28 " fill="none" stroke="#8c8c8c" stroke-width="0.4" stroke-dasharray="1.2 1"/>
<path d="M606.44 655.82 L607.35 656.05 L607.96 656.75 L608.10 657.97 L608.19 659.14 L608.28 660.26 L608.37 661.36 L608.45 662.49 L608.55 663.69 L608.44 665.03 L607.95 666.45 L607.05 667.76 L606.18 668.97 L605.35 670.12 L604.52 671.26 L603.68 672.43 L602.79 673.67 L601.78 674.78 L600.68 675.49 L599.63 675.59 L598.67 675.63 L597.75 675.67 L596.84 675.70 L595.91 675.74 L594.92 675.78 L594.02 675.55 L593.41 674.85 L593.27 673.63 L593.18 672.46 L593.09 671.34 L593.00 670.24 L592.91 669.11 L592.82 667.91 L592.93 666.57 L593.42 665.15 L594.32 663.84 L595.19 662.63 L596.02 661.48 L596.85 660.34 L597.69 659.17 L598.58 657.93 L599.59 656.82 L600.69 656.11 L601.73 656.01 L602.70 655.97 L603.62 655.93 L604.53 655.90 L605.46 655.86 Z" fill="#fff" stroke="#000" stroke-width="1.10" stroke-linejoin="round"/>
<path d="M612.16 659.12 L613.06 659.35 L607.35 656.05 L606.44 655.82 Z M613.06 659.35 L613.67 660.05 L607.96 656.75 L607.35 656.05 Z M613.67 660.05 L613.81 661.27 L608.10 657.97 L607.96 656.75 Z M613.81 661.27 L613.91 662.44 L608.19 659.14 L608.10 657.97 Z M613.91 662.44 L613.99 663.56 L608.28 660.26 L608.19 659.14 Z M613.99 663.56 L614.08 664.66 L608.37 661.36 L608.28 660.26 Z M614.08 664.66 L614.17 665.79 L608.45 662.49 L608.37 661.36 Z M614.17 665.79 L614.27 666.99 L608.55 663.69 L608.45 662.49 Z M614.27 666.99 L614.15 668.33 L608.44 665.03 L608.55 663.69 Z M614.15 668.33 L613.67 669.75 L607.95 666.45 L608.44 665.03 Z M613.67 669.75 L612.76 671.06 L607.05 667.76 L607.95 666.45 Z M612.76 671.06 L611.89 672.27 L606.18 668.97 L607.05 667.76 Z M611.89 672.27 L611.06 673.42 L605.35 670.12 L606.18 668.97 Z M611.06 673.42 L610.24 674.56 L604.52 671.26 L605.35 670.12 Z M610.24 674.56 L609.40 675.73 L603.68 672.43 L604.52 671.26 Z M609.40 675.73 L608.51 676.97 L602.79 673.67 L603.68 672.43 Z M608.51 676.97 L607.49 678.08 L601.78 674.78 L602.79 673.67 Z M607.49 678.08 L606.40 678.79 L600.68 675.49 L601.78 674.78 Z M606.40 678.79 L605.35 678.89 L599.63 675.59 L600.68 675.49 Z M605.35 678.89 L604.39 678.93 L598.67 675.63 L599.63 675.59 Z M604.39 678.93 L603.47 678.97 L597.75 675.67 L598.67 675.63 Z M603.47 678.97 L602.56 679.00 L596.84 675.70 L597.75 675.67 Z M602.56 679.00 L601.63 679.04 L595.91 675.74 L596.84 675.70 Z M601.63 679.04 L600.64 679.08 L594.92 675.78 L595.91 675.74 Z M600.64 679.08 L599.74 678.85 L594.02 675.55 L594.92 675.78 Z M599.74 678.85 L599.13 678.15 L593.41 674.85 L594.02 675.55 Z M599.13 678.15 L598.99 676.93 L593.27 673.63 L593.41 674.85 Z M598.99 676.93 L598.89 675.76 L593.18 672.46 L593.27 673.63 Z M598.89 675.76 L598.81 674.64 L593.09 671.34 L593.18 672.46 Z M598.81 674.64 L598.72 673.54 L593.00 670.24 L593.09 671.34 Z M598.72 673.54 L598.63 672.41 L592.91 669.11 L593.00 670.24 Z M598.63 672.41 L598.53 671.21 L592.82 667.91 L592.91 669.11 Z M598.53 671.21 L598.65 669.87 L592.93 666.57 L592.82 667.91 Z M598.65 669.87 L599.13 668.45 L593.42 665.15 L592.93 666.57 Z M599.13 668.45 L600.04 667.14 L594.32 663.84 L593.42 665.15 Z M600.04 667.14 L600.91 665.93 L595.19 662.63 L594.32 663.84 Z M600.91 665.93 L601.74 664.78 L596.02 661.48 L595.19 662.63 Z M601.74 664.78 L602.56 663.64 L596.85 660.34 L596.02 661.48 Z M602.56 663.64 L603.40 662.47 L597.69 659.17 L596.85 660.34 Z M603.40 662.47 L604.29 661.23 L598.58 657.93 L597.69 659.17 Z M604.29 661.23 L605.31 660.12 L599.59 656.82 L598.58 657.93 Z M605.31 660.12 L606.40 659.41 L600.69 656.11 L599.59 656.82 Z M606.40 659.41 L607.45 659.31 L601.73 656.01 L600.69 656.11 Z M607.45 659.31 L608.41 659.27 L602.70 655.97 L601.73 656.01 Z M608.41 659.27 L609.33 659.23 L603.62 655.93 L602.70 655.97 Z M609.33 659.23 L610.24 659.20 L604.53 655.90 L603.62 655.93 Z M610.24 659.20 L611.17 659.16 L605.46 655.86 L604.53 655.90 Z M611.17 659.16 L612.16 659.12 L606.44 655.82 L605.46 655.86 Z " fill="#fff" stroke="#fff" stroke-width="0.4"/>
<path d="M607.35 656.05 L606.44 655.82 L605.46 655.86 L604.53 655.90 L603.62 655.93 L602.70 655.97 L601.73 656.01 L600.69 656.11 L599.59 656.82 L598.58 657.93 L597.69 659.17 L596.85 660.34 L596.02 661.48 L595.19 662.63 L594.32 663.84 L593.42 665.15 L592.93 666.57 L592.82 667.91 L592.91 669.11 L593.00 670.24 L593.09 671.34 L593.18 672.46 L593.27 673.63 L593.41 674.85 L594.02 675.55" fill="none" stroke="#000" stroke-width="1.10" stroke-linejoin="round"/>
<path d="M613.06 659.35 L607.35 656.05" stroke="#000" stroke-width="1.10" fill="none"/>
<path d="M599.74 678.85 L594.02 675.55" stroke="#000" stroke-width="1.10" fill="none"/>
<path d="M613.28 659.57 L607.56 656.27 M614.01 668.80 L608.29 665.50 M607.13 678.33 L601.41 675.03 M599.52 678.63 L593.81 675.33 M598.79 669.40 L593.08 666.10 M605.67 659.87 L599.96 656.57 " stroke="#000" stroke-width="0.99" fill="none"/>
<path d="M612.16 659.12 L613.06 659.35 L613.67 660.05 L613.81 661.27 L613.91 662.44 L613.99 663.56 L614.08 664.66 L614.17 665.79 L614.27 666.99 L614.15 668.33 L613.67 669.75 L612.76 671.06 L611.89 672.27 L611.06 673.42 L610.24 674.56 L609.40 675.73 L608.51 676.97 L607.49 678.08 L606.40 678.79 L605.35 678.89 L604.39 678.93 L603.47 678.97 L602.56 679.00 L601.63 679.04 L600.64 679.08 L599.74 678.85 L599.13 678.15 L598.99 676.93 L598.89 675.76 L598.81 674.64 L598.72 673.54 L598.63 672.41 L598.53 671.21 L598.65 669.87 L599.13 668.45 L600.04 667.14 L600.91 665.93 L601.74 664.78 L602.56 663.64 L603.40 662.47 L604.29 661.23 L605.31 660.12 L606.40 659.41 L607.45 659.31 L608.41 659.27 L609.33 659.23 L610.24 659.20 L611.17 659.16 Z" fill="#fff" stroke="#000" stroke-width="1.10" stroke-linejoin="round"/>
<ellipse cx="606.57" cy="669.20" rx="10.50" ry="6.06" transform="rotate(-60.00 606.57 669.20)" fill="none" stroke="#000" stroke-width="0.83"/>
</g>
<g id="explode" stroke="#111" stroke-width="1.05" fill="none" stroke-dasharray="17 3 3.5 3">
<path d="M494.4 474.1 L459 494.5 M494.4 474.1 L402.2 420.6 L497 366.7 L531 386"/>
<path d="M408 525 L380 539.5"/>
<path d="M538.6 525.3 L481 559 M538.6 525.3 L644.8 584 L754.6 519.2 L655.5 461"/>
<path d="M371.4 234 V346" stroke-width="0.8" stroke="#222" stroke-dasharray="9.2 2.4 3.4 2.4 17.5 5.5 49.5 3 4 3 12"/>
<path d="M308.6 496.6 L336.5 513" stroke-width="0.8" stroke="#222" stroke-dasharray="10 2 3.6 3.2 14"/><path d="M462 586 L492 603.3" stroke-width="0.8" stroke="#222" stroke-dasharray="13 3 3 3"/>
</g>
<rect x="11.5" y="9.0" width="52.0" height="42.3" fill="#fff" stroke="#000" stroke-width="1.3"/>
<text x="37.5" y="38.7" font-size="24" text-anchor="middle" fill="#000">1</text>
<text x="121.6" y="20.6" font-size="19.2" textLength="155.4" lengthAdjust="spacingAndGlyphs" fill="#000">CASTER &amp; FORK</text>
<text x="146.4" y="44" font-size="19.2" textLength="105" lengthAdjust="spacingAndGlyphs" fill="#000">COMPLETE</text>
<rect x="475.8" y="115.8" width="51.7" height="41.9" fill="#fff" stroke="#000" stroke-width="1.3"/>
<text x="502.4" y="144.9" font-size="24" text-anchor="middle" fill="#000">5</text>
<rect x="475.8" y="174.0" width="51.7" height="41.5" fill="#fff" stroke="#000" stroke-width="1.3"/>
<text x="502.4" y="202.9" font-size="24" text-anchor="middle" fill="#000">6</text>
<rect x="768.3" y="223.0" width="52.1" height="41.7" fill="#fff" stroke="#000" stroke-width="1.3"/>
<text x="794.3" y="252.4" font-size="24" text-anchor="middle" fill="#000">2</text>
<rect x="171.0" y="509.7" width="52.1" height="42.1" fill="#fff" stroke="#000" stroke-width="1.3"/>
<text x="195.4" y="538.0" font-size="24" text-anchor="middle" fill="#000">3</text>
<rect x="465.6" y="682.2" width="52.1" height="41.7" fill="#fff" stroke="#000" stroke-width="1.3"/>
<text x="488.9" y="709.9" font-size="24" text-anchor="middle" fill="#000">4</text>
<path d="M475.8 136.8 L450.8 136.8 L392.2 192.3" fill="none" stroke="#000" stroke-width="1.2"/>
<path d="M380.0 203.8 L389.2 189.1 L395.2 195.4 Z" fill="#000"/>
<path d="M475.8 195.0 L450.8 195.0 L401.8 244.4" fill="none" stroke="#000" stroke-width="1.2"/>
<path d="M390.0 256.3 L398.7 241.3 L405.0 247.5 Z" fill="#000"/>
<path d="M768.3 243.7 L742.8 243.7 L690.4 298.1" fill="none" stroke="#000" stroke-width="1.2"/>
<path d="M678.7 310.2 L687.2 295.1 L693.5 301.2 Z" fill="#000"/>
<path d="M223.1 530.5 L242.2 530.5 L281.7 510.3" fill="none" stroke="#000" stroke-width="1.2"/>
<path d="M296.7 502.7 L283.7 514.3 L279.7 506.4 Z" fill="#000"/>
<path d="M517.7 702.6 L537.2 702.6 L576.9 682.7" fill="none" stroke="#000" stroke-width="1.2"/>
<path d="M591.9 675.2 L578.8 686.7 L574.9 678.8 Z" fill="#000"/>
<rect x="0" y="274.4" width="1.5" height="3.4" fill="#cbcbcb"/>
<rect x="707.2" y="592.9" width="291.5" height="196.5" fill="#fff" stroke="#000" stroke-width="1.3"/>
<rect x="713.1" y="597.5" width="26.6" height="26.5" fill="#fff" stroke="#000" stroke-width="1.3"/>
<text x="726.4" y="618.9" font-size="20" text-anchor="middle">7</text>
<text x="745" y="613.7" font-size="13.4">AXIS FASTENERS KIT</text>
<rect x="712.2" y="628.2" width="282.8" height="156.9" fill="none" stroke="#000" stroke-width="1.3"/>
<path d="M712.2 645.3 H995.0 M712.2 671.3 H995.0 M712.2 725.3 H995.0 M712.2 756.1 H995.0 M760.9 628.2 V785.1 M842.5 628.2 V785.1 M960.5 628.2 V785.1 " fill="none" stroke="#000" stroke-width="1.1"/>
<text x="720.8" y="642" font-size="11" font-weight="bold">ITEM #</text>
<text x="766" y="642" font-size="11" font-weight="bold" textLength="73.8" lengthAdjust="spacingAndGlyphs">ILLUSTRATION</text>
<text x="848.3" y="642" font-size="11" font-weight="bold" textLength="77" lengthAdjust="spacingAndGlyphs">DESCRIPTION</text>
<text x="965.3" y="641" font-size="11" font-weight="bold">QTY</text>
<text x="734.8" y="662.2" font-size="11.5" text-anchor="middle" fill="#222">3</text>
<text x="734.5" y="702.8" font-size="11.5" text-anchor="middle" fill="#222">4</text>
<text x="733.3" y="745.3" font-size="11.5" text-anchor="middle" fill="#222">5</text>
<text x="734.8" y="776.6" font-size="11.5" text-anchor="middle" fill="#222">6</text>
<text x="977" y="662.3" font-size="12.3" text-anchor="middle" fill="#222">1</text>
<text x="977" y="704.0" font-size="12.3" text-anchor="middle" fill="#222">1</text>
<text x="977" y="746.1" font-size="12.3" text-anchor="middle" fill="#222">1</text>
<text x="977" y="776.6" font-size="12.3" text-anchor="middle" fill="#222">1</text>
<text x="848.0" y="662.1" font-size="11.05" fill="#222">NUT HEX NYLOCK</text>
<text x="848.0" y="695.0" font-size="11.05" fill="#222">HHCS M8X1.25X85</text>
<text x="848.0" y="708.3" font-size="11.05" fill="#222">NP CLS 10.9</text>
<text x="849.3" y="743.7" font-size="11.05" fill="#222">NUT M12X1</text>
<text x="848.0" y="775.0" font-size="11.05" fill="#222">PLAIN WASHER M12</text>
<g transform="translate(799.80 659.20) scale(-1.000 1.000)"><path d="M-1.86 -9.25 L-1.26 -9.11 L-0.69 -8.86 L-0.36 -8.28 L-0.23 -7.50 L-0.29 -6.60 L-0.35 -5.75 L-0.41 -4.92 L-0.47 -4.09 L-0.54 -3.21 L-0.69 -2.26 L-1.10 -1.30 L-1.68 -0.41 L-2.36 0.34 L-3.00 1.06 L-3.62 1.76 L-4.26 2.46 L-4.92 3.20 L-5.64 3.90 L-6.38 4.27 L-7.09 4.39 L-7.70 4.25 L-8.28 4.11 L-8.85 3.98 L-9.42 3.85 L-10.02 3.71 L-10.59 3.46 L-10.92 2.88 L-11.05 2.10 L-10.98 1.20 L-10.92 0.35 L-10.86 -0.48 L-10.80 -1.31 L-10.74 -2.19 L-10.59 -3.14 L-10.17 -4.10 L-9.60 -4.99 L-8.92 -5.74 L-8.28 -6.46 L-7.65 -7.16 L-7.02 -7.86 L-6.36 -8.60 L-5.64 -9.30 L-4.89 -9.67 L-4.19 -9.79 L-3.57 -9.65 L-2.99 -9.51 L-2.43 -9.38 Z" fill="#fff" stroke="#000" stroke-width="0.85" stroke-linejoin="round"/>
<path d="M1.78 -7.15 L2.38 -7.01 L-1.26 -9.11 L-1.86 -9.25 Z M2.38 -7.01 L2.95 -6.76 L-0.69 -8.86 L-1.26 -9.11 Z M2.95 -6.76 L3.28 -6.18 L-0.36 -8.28 L-0.69 -8.86 Z M3.28 -6.18 L3.41 -5.40 L-0.23 -7.50 L-0.36 -8.28 Z M3.41 -5.40 L3.35 -4.50 L-0.29 -6.60 L-0.23 -7.50 Z M3.35 -4.50 L3.28 -3.65 L-0.35 -5.75 L-0.29 -6.60 Z M3.28 -3.65 L3.22 -2.82 L-0.41 -4.92 L-0.35 -5.75 Z M3.22 -2.82 L3.16 -1.99 L-0.47 -4.09 L-0.41 -4.92 Z M3.16 -1.99 L3.10 -1.11 L-0.54 -3.21 L-0.47 -4.09 Z M3.10 -1.11 L2.95 -0.16 L-0.69 -2.26 L-0.54 -3.21 Z M2.95 -0.16 L2.53 0.80 L-1.10 -1.30 L-0.69 -2.26 Z M2.53 0.80 L1.96 1.69 L-1.68 -0.41 L-1.10 -1.30 Z M1.96 1.69 L1.28 2.44 L-2.36 0.34 L-1.68 -0.41 Z M1.28 2.44 L0.64 3.16 L-3.00 1.06 L-2.36 0.34 Z M0.64 3.16 L0.02 3.86 L-3.62 1.76 L-3.00 1.06 Z M0.02 3.86 L-0.62 4.56 L-4.26 2.46 L-3.62 1.76 Z M-0.62 4.56 L-1.28 5.30 L-4.92 3.20 L-4.26 2.46 Z M-1.28 5.30 L-2.00 6.00 L-5.64 3.90 L-4.92 3.20 Z M-2.00 6.00 L-2.75 6.37 L-6.38 4.27 L-5.64 3.90 Z M-2.75 6.37 L-3.45 6.49 L-7.09 4.39 L-6.38 4.27 Z M-3.45 6.49 L-4.07 6.35 L-7.70 4.25 L-7.09 4.39 Z M-4.07 6.35 L-4.64 6.21 L-8.28 4.11 L-7.70 4.25 Z M-4.64 6.21 L-5.21 6.08 L-8.85 3.98 L-8.28 4.11 Z M-5.21 6.08 L-5.78 5.95 L-9.42 3.85 L-8.85 3.98 Z M-5.78 5.95 L-6.38 5.81 L-10.02 3.71 L-9.42 3.85 Z M-6.38 5.81 L-6.95 5.56 L-10.59 3.46 L-10.02 3.71 Z M-6.95 5.56 L-7.28 4.98 L-10.92 2.88 L-10.59 3.46 Z M-7.28 4.98 L-7.41 4.20 L-11.05 2.10 L-10.92 2.88 Z M-7.41 4.20 L-7.35 3.30 L-10.98 1.20 L-11.05 2.10 Z M-7.35 3.30 L-7.28 2.45 L-10.92 0.35 L-10.98 1.20 Z M-7.28 2.45 L-7.22 1.62 L-10.86 -0.48 L-10.92 0.35 Z M-7.22 1.62 L-7.16 0.79 L-10.80 -1.31 L-10.86 -0.48 Z M-7.16 0.79 L-7.10 -0.09 L-10.74 -2.19 L-10.80 -1.31 Z M-7.10 -0.09 L-6.95 -1.04 L-10.59 -3.14 L-10.74 -2.19 Z M-6.95 -1.04 L-6.53 -2.00 L-10.17 -4.10 L-10.59 -3.14 Z M-6.53 -2.00 L-5.96 -2.89 L-9.60 -4.99 L-10.17 -4.10 Z M-5.96 -2.89 L-5.28 -3.64 L-8.92 -5.74 L-9.60 -4.99 Z M-5.28 -3.64 L-4.64 -4.36 L-8.28 -6.46 L-8.92 -5.74 Z M-4.64 -4.36 L-4.02 -5.06 L-7.65 -7.16 L-8.28 -6.46 Z M-4.02 -5.06 L-3.38 -5.76 L-7.02 -7.86 L-7.65 -7.16 Z M-3.38 -5.76 L-2.72 -6.50 L-6.36 -8.60 L-7.02 -7.86 Z M-2.72 -6.50 L-2.00 -7.20 L-5.64 -9.30 L-6.36 -8.60 Z M-2.00 -7.20 L-1.25 -7.57 L-4.89 -9.67 L-5.64 -9.30 Z M-1.25 -7.57 L-0.55 -7.69 L-4.19 -9.79 L-4.89 -9.67 Z M-0.55 -7.69 L0.07 -7.55 L-3.57 -9.65 L-4.19 -9.79 Z M0.07 -7.55 L0.64 -7.41 L-2.99 -9.51 L-3.57 -9.65 Z M0.64 -7.41 L1.21 -7.28 L-2.43 -9.38 L-2.99 -9.51 Z M1.21 -7.28 L1.78 -7.15 L-1.86 -9.25 L-2.43 -9.38 Z " fill="#fff" stroke="#fff" stroke-width="0.4"/>
<path d="M-0.69 -8.86 L-1.26 -9.11 L-1.86 -9.25 L-2.43 -9.38 L-2.99 -9.51 L-3.57 -9.65 L-4.19 -9.79 L-4.89 -9.67 L-5.64 -9.30 L-6.36 -8.60 L-7.02 -7.86 L-7.65 -7.16 L-8.28 -6.46 L-8.92 -5.74 L-9.60 -4.99 L-10.17 -4.10 L-10.59 -3.14 L-10.74 -2.19 L-10.80 -1.31 L-10.86 -0.48 L-10.92 0.35 L-10.98 1.20 L-11.05 2.10 L-10.92 2.88 L-10.59 3.46" fill="none" stroke="#000" stroke-width="0.85" stroke-linejoin="round"/>
<path d="M2.95 -6.76 L-0.69 -8.86" stroke="#000" stroke-width="0.85" fill="none"/>
<path d="M-6.95 5.56 L-10.59 3.46" stroke="#000" stroke-width="0.85" fill="none"/>
<path d="M3.18 -6.38 L-0.46 -8.48 M2.68 0.48 L-0.96 -1.62 M-2.50 6.26 L-6.14 4.16 M-7.18 5.18 L-10.82 3.08 M-6.68 -1.68 L-10.32 -3.78 M-1.50 -7.46 L-5.14 -9.56 " stroke="#000" stroke-width="0.77" fill="none"/>
<path d="M1.78 -7.15 L2.38 -7.01 L2.95 -6.76 L3.28 -6.18 L3.41 -5.40 L3.35 -4.50 L3.28 -3.65 L3.22 -2.82 L3.16 -1.99 L3.10 -1.11 L2.95 -0.16 L2.53 0.80 L1.96 1.69 L1.28 2.44 L0.64 3.16 L0.02 3.86 L-0.62 4.56 L-1.28 5.30 L-2.00 6.00 L-2.75 6.37 L-3.45 6.49 L-4.07 6.35 L-4.64 6.21 L-5.21 6.08 L-5.78 5.95 L-6.38 5.81 L-6.95 5.56 L-7.28 4.98 L-7.41 4.20 L-7.35 3.30 L-7.28 2.45 L-7.22 1.62 L-7.16 0.79 L-7.10 -0.09 L-6.95 -1.04 L-6.53 -2.00 L-5.96 -2.89 L-5.28 -3.64 L-4.64 -4.36 L-4.02 -5.06 L-3.38 -5.76 L-2.72 -6.50 L-2.00 -7.20 L-1.25 -7.57 L-0.55 -7.69 L0.07 -7.55 L0.64 -7.41 L1.21 -7.28 Z" fill="#fff" stroke="#000" stroke-width="0.85" stroke-linejoin="round"/>
<ellipse cx="-2.00" cy="-0.60" rx="3.60" ry="2.08" transform="rotate(-60.00 -2.00 -0.60)" fill="#fff" stroke="#000" stroke-width="1.40"/></g>
<g transform="translate(772.60 715.60) scale(-1.000 1.000)"><path d="M-61.34 -40.07 L-1.59 -5.57 L-5.54 1.27 L-65.29 -33.23 Z" fill="#fff" stroke="#000" stroke-width="0.95" stroke-linejoin="round"/>
<path d="M-48.35 -32.57 L-63.08 -41.07 A3.95 2.28 -60.00 0 0 -67.03 -34.23 L-52.30 -25.73 A3.95 2.28 -60.00 0 1 -48.35 -32.57 Z" fill="#161616" stroke="#000" stroke-width="0.95"/>
<path d="M-65.99 -34.25 A3.63 2.10 -60.00 0 1 -62.58 -40.17 M-64.61 -33.45 A3.63 2.10 -60.00 0 1 -61.19 -39.37 M-63.22 -32.65 A3.63 2.10 -60.00 0 1 -59.81 -38.57 M-61.84 -31.85 A3.63 2.10 -60.00 0 1 -58.42 -37.77 M-60.45 -31.05 A3.63 2.10 -60.00 0 1 -57.04 -36.97 M-59.07 -30.25 A3.63 2.10 -60.00 0 1 -55.65 -36.17 M-57.68 -29.45 A3.63 2.10 -60.00 0 1 -54.27 -35.37 M-56.29 -28.65 A3.63 2.10 -60.00 0 1 -52.88 -34.57 M-54.91 -27.85 A3.63 2.10 -60.00 0 1 -51.49 -33.77 " fill="none" stroke="#8c8c8c" stroke-width="0.4" stroke-dasharray="1.2 1"/>
<path d="M0.08 -8.46 L0.65 -8.31 L1.03 -7.87 L1.12 -7.10 L1.18 -6.36 L1.24 -5.65 L1.29 -4.95 L1.35 -4.24 L1.41 -3.48 L1.34 -2.64 L1.03 -1.74 L0.46 -0.91 L-0.09 -0.15 L-0.62 0.58 L-1.14 1.30 L-1.67 2.04 L-2.23 2.82 L-2.87 3.52 L-3.56 3.98 L-4.23 4.04 L-4.84 4.06 L-5.42 4.09 L-5.99 4.11 L-6.58 4.13 L-7.20 4.16 L-7.77 4.01 L-8.16 3.57 L-8.25 2.80 L-8.31 2.06 L-8.36 1.35 L-8.42 0.65 L-8.47 -0.06 L-8.53 -0.82 L-8.46 -1.66 L-8.16 -2.56 L-7.59 -3.39 L-7.03 -4.15 L-6.51 -4.88 L-5.99 -5.60 L-5.46 -6.34 L-4.89 -7.12 L-4.25 -7.82 L-3.56 -8.28 L-2.90 -8.34 L-2.29 -8.36 L-1.71 -8.39 L-1.13 -8.41 L-0.55 -8.43 Z" fill="#fff" stroke="#000" stroke-width="0.95" stroke-linejoin="round"/>
<path d="M4.84 -5.71 L5.41 -5.56 L0.65 -8.31 L0.08 -8.46 Z M5.41 -5.56 L5.80 -5.12 L1.03 -7.87 L0.65 -8.31 Z M5.80 -5.12 L5.89 -4.35 L1.12 -7.10 L1.03 -7.87 Z M5.89 -4.35 L5.94 -3.61 L1.18 -6.36 L1.12 -7.10 Z M5.94 -3.61 L6.00 -2.90 L1.24 -5.65 L1.18 -6.36 Z M6.00 -2.90 L6.05 -2.20 L1.29 -4.95 L1.24 -5.65 Z M6.05 -2.20 L6.11 -1.49 L1.35 -4.24 L1.29 -4.95 Z M6.11 -1.49 L6.17 -0.73 L1.41 -3.48 L1.35 -4.24 Z M6.17 -0.73 L6.10 0.11 L1.34 -2.64 L1.41 -3.48 Z M6.10 0.11 L5.79 1.01 L1.03 -1.74 L1.34 -2.64 Z M5.79 1.01 L5.22 1.84 L0.46 -0.91 L1.03 -1.74 Z M5.22 1.84 L4.67 2.60 L-0.09 -0.15 L0.46 -0.91 Z M4.67 2.60 L4.15 3.33 L-0.62 0.58 L-0.09 -0.15 Z M4.15 3.33 L3.63 4.05 L-1.14 1.30 L-0.62 0.58 Z M3.63 4.05 L3.09 4.79 L-1.67 2.04 L-1.14 1.30 Z M3.09 4.79 L2.53 5.57 L-2.23 2.82 L-1.67 2.04 Z M2.53 5.57 L1.89 6.27 L-2.87 3.52 L-2.23 2.82 Z M1.89 6.27 L1.20 6.73 L-3.56 3.98 L-2.87 3.52 Z M1.20 6.73 L0.54 6.79 L-4.23 4.04 L-3.56 3.98 Z M0.54 6.79 L-0.07 6.81 L-4.84 4.06 L-4.23 4.04 Z M-0.07 6.81 L-0.65 6.84 L-5.42 4.09 L-4.84 4.06 Z M-0.65 6.84 L-1.23 6.86 L-5.99 4.11 L-5.42 4.09 Z M-1.23 6.86 L-1.82 6.88 L-6.58 4.13 L-5.99 4.11 Z M-1.82 6.88 L-2.44 6.91 L-7.20 4.16 L-6.58 4.13 Z M-2.44 6.91 L-3.01 6.76 L-7.77 4.01 L-7.20 4.16 Z M-3.01 6.76 L-3.40 6.32 L-8.16 3.57 L-7.77 4.01 Z M-3.40 6.32 L-3.49 5.55 L-8.25 2.80 L-8.16 3.57 Z M-3.49 5.55 L-3.54 4.81 L-8.31 2.06 L-8.25 2.80 Z M-3.54 4.81 L-3.60 4.10 L-8.36 1.35 L-8.31 2.06 Z M-3.60 4.10 L-3.65 3.40 L-8.42 0.65 L-8.36 1.35 Z M-3.65 3.40 L-3.71 2.69 L-8.47 -0.06 L-8.42 0.65 Z M-3.71 2.69 L-3.77 1.93 L-8.53 -0.82 L-8.47 -0.06 Z M-3.77 1.93 L-3.70 1.09 L-8.46 -1.66 L-8.53 -0.82 Z M-3.70 1.09 L-3.39 0.19 L-8.16 -2.56 L-8.46 -1.66 Z M-3.39 0.19 L-2.82 -0.64 L-7.59 -3.39 L-8.16 -2.56 Z M-2.82 -0.64 L-2.27 -1.40 L-7.03 -4.15 L-7.59 -3.39 Z M-2.27 -1.40 L-1.75 -2.13 L-6.51 -4.88 L-7.03 -4.15 Z M-1.75 -2.13 L-1.23 -2.85 L-5.99 -5.60 L-6.51 -4.88 Z M-1.23 -2.85 L-0.69 -3.59 L-5.46 -6.34 L-5.99 -5.60 Z M-0.69 -3.59 L-0.13 -4.37 L-4.89 -7.12 L-5.46 -6.34 Z M-0.13 -4.37 L0.51 -5.07 L-4.25 -7.82 L-4.89 -7.12 Z M0.51 -5.07 L1.20 -5.53 L-3.56 -8.28 L-4.25 -7.82 Z M1.20 -5.53 L1.86 -5.59 L-2.90 -8.34 L-3.56 -8.28 Z M1.86 -5.59 L2.47 -5.61 L-2.29 -8.36 L-2.90 -8.34 Z M2.47 -5.61 L3.05 -5.64 L-1.71 -8.39 L-2.29 -8.36 Z M3.05 -5.64 L3.63 -5.66 L-1.13 -8.41 L-1.71 -8.39 Z M3.63 -5.66 L4.22 -5.68 L-0.55 -8.43 L-1.13 -8.41 Z M4.22 -5.68 L4.84 -5.71 L0.08 -8.46 L-0.55 -8.43 Z " fill="#fff" stroke="#fff" stroke-width="0.4"/>
<path d="M0.65 -8.31 L0.08 -8.46 L-0.55 -8.43 L-1.13 -8.41 L-1.71 -8.39 L-2.29 -8.36 L-2.90 -8.34 L-3.56 -8.28 L-4.25 -7.82 L-4.89 -7.12 L-5.46 -6.34 L-5.99 -5.60 L-6.51 -4.88 L-7.03 -4.15 L-7.59 -3.39 L-8.16 -2.56 L-8.46 -1.66 L-8.53 -0.82 L-8.47 -0.06 L-8.42 0.65 L-8.36 1.35 L-8.31 2.06 L-8.25 2.80 L-8.16 3.57 L-7.77 4.01" fill="none" stroke="#000" stroke-width="0.95" stroke-linejoin="round"/>
<path d="M5.41 -5.56 L0.65 -8.31" stroke="#000" stroke-width="0.95" fill="none"/>
<path d="M-3.01 6.76 L-7.77 4.01" stroke="#000" stroke-width="0.95" fill="none"/>
<path d="M5.55 -5.42 L0.78 -8.17 M6.01 0.41 L1.24 -2.34 M1.66 6.44 L-3.10 3.69 M-3.15 6.62 L-7.91 3.87 M-3.61 0.79 L-8.37 -1.96 M0.74 -5.24 L-4.02 -7.99 " stroke="#000" stroke-width="0.85" fill="none"/>
<path d="M4.84 -5.71 L5.41 -5.56 L5.80 -5.12 L5.89 -4.35 L5.94 -3.61 L6.00 -2.90 L6.05 -2.20 L6.11 -1.49 L6.17 -0.73 L6.10 0.11 L5.79 1.01 L5.22 1.84 L4.67 2.60 L4.15 3.33 L3.63 4.05 L3.09 4.79 L2.53 5.57 L1.89 6.27 L1.20 6.73 L0.54 6.79 L-0.07 6.81 L-0.65 6.84 L-1.23 6.86 L-1.82 6.88 L-2.44 6.91 L-3.01 6.76 L-3.40 6.32 L-3.49 5.55 L-3.54 4.81 L-3.60 4.10 L-3.65 3.40 L-3.71 2.69 L-3.77 1.93 L-3.70 1.09 L-3.39 0.19 L-2.82 -0.64 L-2.27 -1.40 L-1.75 -2.13 L-1.23 -2.85 L-0.69 -3.59 L-0.13 -4.37 L0.51 -5.07 L1.20 -5.53 L1.86 -5.59 L2.47 -5.61 L3.05 -5.64 L3.63 -5.66 L4.22 -5.68 Z" fill="#fff" stroke="#000" stroke-width="0.95" stroke-linejoin="round"/>
<ellipse cx="1.37" cy="0.70" rx="6.64" ry="3.83" transform="rotate(-60.00 1.37 0.70)" fill="none" stroke="#000" stroke-width="0.71"/></g>
<g transform="translate(798.80 742.20) scale(-1.000 1.000)"><path d="M-1.27 -13.75 L-0.35 -13.54 L0.52 -13.15 L1.03 -12.26 L1.23 -11.07 L1.13 -9.69 L1.04 -8.39 L0.94 -7.11 L0.85 -5.83 L0.75 -4.48 L0.52 -3.02 L-0.12 -1.55 L-1.00 -0.19 L-2.04 0.97 L-3.02 2.07 L-3.98 3.14 L-4.96 4.23 L-5.97 5.36 L-7.08 6.43 L-8.22 7.00 L-9.30 7.18 L-10.25 6.96 L-11.13 6.76 L-12.00 6.56 L-12.88 6.35 L-13.80 6.14 L-14.67 5.75 L-15.18 4.86 L-15.38 3.67 L-15.28 2.29 L-15.19 0.99 L-15.10 -0.29 L-15.00 -1.57 L-14.90 -2.92 L-14.67 -4.38 L-14.03 -5.85 L-13.16 -7.21 L-12.11 -8.37 L-11.13 -9.47 L-10.17 -10.54 L-9.20 -11.63 L-8.18 -12.76 L-7.07 -13.83 L-5.93 -14.40 L-4.85 -14.58 L-3.91 -14.36 L-3.02 -14.16 L-2.15 -13.96 Z" fill="#fff" stroke="#000" stroke-width="0.90" stroke-linejoin="round"/>
<path d="M3.40 -11.05 L4.32 -10.84 L-0.35 -13.54 L-1.27 -13.75 Z M4.32 -10.84 L5.20 -10.45 L0.52 -13.15 L-0.35 -13.54 Z M5.20 -10.45 L5.70 -9.56 L1.03 -12.26 L0.52 -13.15 Z M5.70 -9.56 L5.91 -8.37 L1.23 -11.07 L1.03 -12.26 Z M5.91 -8.37 L5.81 -6.99 L1.13 -9.69 L1.23 -11.07 Z M5.81 -6.99 L5.71 -5.69 L1.04 -8.39 L1.13 -9.69 Z M5.71 -5.69 L5.62 -4.41 L0.94 -7.11 L1.04 -8.39 Z M5.62 -4.41 L5.53 -3.13 L0.85 -5.83 L0.94 -7.11 Z M5.53 -3.13 L5.43 -1.78 L0.75 -4.48 L0.85 -5.83 Z M5.43 -1.78 L5.19 -0.32 L0.52 -3.02 L0.75 -4.48 Z M5.19 -0.32 L4.56 1.15 L-0.12 -1.55 L0.52 -3.02 Z M4.56 1.15 L3.68 2.51 L-1.00 -0.19 L-0.12 -1.55 Z M3.68 2.51 L2.64 3.67 L-2.04 0.97 L-1.00 -0.19 Z M2.64 3.67 L1.65 4.77 L-3.02 2.07 L-2.04 0.97 Z M1.65 4.77 L0.69 5.84 L-3.98 3.14 L-3.02 2.07 Z M0.69 5.84 L-0.28 6.93 L-4.96 4.23 L-3.98 3.14 Z M-0.28 6.93 L-1.30 8.06 L-5.97 5.36 L-4.96 4.23 Z M-1.30 8.06 L-2.40 9.13 L-7.08 6.43 L-5.97 5.36 Z M-2.40 9.13 L-3.55 9.70 L-8.22 7.00 L-7.08 6.43 Z M-3.55 9.70 L-4.63 9.88 L-9.30 7.18 L-8.22 7.00 Z M-4.63 9.88 L-5.57 9.66 L-10.25 6.96 L-9.30 7.18 Z M-5.57 9.66 L-6.46 9.46 L-11.13 6.76 L-10.25 6.96 Z M-6.46 9.46 L-7.33 9.26 L-12.00 6.56 L-11.13 6.76 Z M-7.33 9.26 L-8.20 9.05 L-12.88 6.35 L-12.00 6.56 Z M-8.20 9.05 L-9.12 8.84 L-13.80 6.14 L-12.88 6.35 Z M-9.12 8.84 L-10.00 8.45 L-14.67 5.75 L-13.80 6.14 Z M-10.00 8.45 L-10.50 7.56 L-15.18 4.86 L-14.67 5.75 Z M-10.50 7.56 L-10.71 6.37 L-15.38 3.67 L-15.18 4.86 Z M-10.71 6.37 L-10.61 4.99 L-15.28 2.29 L-15.38 3.67 Z M-10.61 4.99 L-10.51 3.69 L-15.19 0.99 L-15.28 2.29 Z M-10.51 3.69 L-10.42 2.41 L-15.10 -0.29 L-15.19 0.99 Z M-10.42 2.41 L-10.33 1.13 L-15.00 -1.57 L-15.10 -0.29 Z M-10.33 1.13 L-10.23 -0.22 L-14.90 -2.92 L-15.00 -1.57 Z M-10.23 -0.22 L-9.99 -1.68 L-14.67 -4.38 L-14.90 -2.92 Z M-9.99 -1.68 L-9.36 -3.15 L-14.03 -5.85 L-14.67 -4.38 Z M-9.36 -3.15 L-8.48 -4.51 L-13.16 -7.21 L-14.03 -5.85 Z M-8.48 -4.51 L-7.44 -5.67 L-12.11 -8.37 L-13.16 -7.21 Z M-7.44 -5.67 L-6.45 -6.77 L-11.13 -9.47 L-12.11 -8.37 Z M-6.45 -6.77 L-5.49 -7.84 L-10.17 -10.54 L-11.13 -9.47 Z M-5.49 -7.84 L-4.52 -8.93 L-9.20 -11.63 L-10.17 -10.54 Z M-4.52 -8.93 L-3.50 -10.06 L-8.18 -12.76 L-9.20 -11.63 Z M-3.50 -10.06 L-2.40 -11.13 L-7.07 -13.83 L-8.18 -12.76 Z M-2.40 -11.13 L-1.25 -11.70 L-5.93 -14.40 L-7.07 -13.83 Z M-1.25 -11.70 L-0.17 -11.88 L-4.85 -14.58 L-5.93 -14.40 Z M-0.17 -11.88 L0.77 -11.66 L-3.91 -14.36 L-4.85 -14.58 Z M0.77 -11.66 L1.66 -11.46 L-3.02 -14.16 L-3.91 -14.36 Z M1.66 -11.46 L2.53 -11.26 L-2.15 -13.96 L-3.02 -14.16 Z M2.53 -11.26 L3.40 -11.05 L-1.27 -13.75 L-2.15 -13.96 Z " fill="#fff" stroke="#fff" stroke-width="0.4"/>
<path d="M0.52 -13.15 L-0.35 -13.54 L-1.27 -13.75 L-2.15 -13.96 L-3.02 -14.16 L-3.91 -14.36 L-4.85 -14.58 L-5.93 -14.40 L-7.07 -13.83 L-8.18 -12.76 L-9.20 -11.63 L-10.17 -10.54 L-11.13 -9.47 L-12.11 -8.37 L-13.16 -7.21 L-14.03 -5.85 L-14.67 -4.38 L-14.90 -2.92 L-15.00 -1.57 L-15.10 -0.29 L-15.19 0.99 L-15.28 2.29 L-15.38 3.67 L-15.18 4.86 L-14.67 5.75" fill="none" stroke="#000" stroke-width="0.90" stroke-linejoin="round"/>
<path d="M5.20 -10.45 L0.52 -13.15" stroke="#000" stroke-width="0.90" fill="none"/>
<path d="M-10.00 8.45 L-14.67 5.75" stroke="#000" stroke-width="0.90" fill="none"/>
<path d="M5.55 -9.87 L0.87 -12.57 M4.78 0.66 L0.11 -2.04 M-3.17 9.53 L-7.84 6.83 M-10.35 7.87 L-15.03 5.17 M-9.58 -2.66 L-14.26 -5.36 M-1.63 -11.53 L-6.31 -14.23 " stroke="#000" stroke-width="0.81" fill="none"/>
<path d="M3.40 -11.05 L4.32 -10.84 L5.20 -10.45 L5.70 -9.56 L5.91 -8.37 L5.81 -6.99 L5.71 -5.69 L5.62 -4.41 L5.53 -3.13 L5.43 -1.78 L5.19 -0.32 L4.56 1.15 L3.68 2.51 L2.64 3.67 L1.65 4.77 L0.69 5.84 L-0.28 6.93 L-1.30 8.06 L-2.40 9.13 L-3.55 9.70 L-4.63 9.88 L-5.57 9.66 L-6.46 9.46 L-7.33 9.26 L-8.20 9.05 L-9.12 8.84 L-10.00 8.45 L-10.50 7.56 L-10.71 6.37 L-10.61 4.99 L-10.51 3.69 L-10.42 2.41 L-10.33 1.13 L-10.23 -0.22 L-9.99 -1.68 L-9.36 -3.15 L-8.48 -4.51 L-7.44 -5.67 L-6.45 -6.77 L-5.49 -7.84 L-4.52 -8.93 L-3.50 -10.06 L-2.40 -11.13 L-1.25 -11.70 L-0.17 -11.88 L0.77 -11.66 L1.66 -11.46 L2.53 -11.26 Z" fill="#fff" stroke="#000" stroke-width="0.90" stroke-linejoin="round"/>
<ellipse cx="-2.40" cy="-1.00" rx="7.00" ry="4.04" transform="rotate(-60.00 -2.40 -1.00)" fill="#fff" stroke="#000" stroke-width="1.00"/>
<ellipse cx="-2.92" cy="-1.30" rx="4.90" ry="2.83" transform="rotate(-60.00 -2.92 -1.30)" fill="none" stroke="#000" stroke-width="0.72"/></g>
<g transform="translate(802.40 772.50) scale(-1.000 1.000)"><path d="M4.74 -13.60 A14.20 8.19 -60.00 0 0 -9.46 11.00 L-7.90 11.90 A14.20 8.19 -60.00 0 0 6.30 -12.70 Z" fill="#fff" stroke="#000" stroke-width="0.90"/>
<ellipse cx="-0.80" cy="-0.40" rx="14.20" ry="8.19" transform="rotate(-60.00 -0.80 -0.40)" fill="#fff" stroke="#000" stroke-width="0.90"/>
<ellipse cx="-0.80" cy="-0.40" rx="7.00" ry="4.04" transform="rotate(-60.00 -0.80 -0.40)" fill="#fff" stroke="#000" stroke-width="0.90"/>
<path d="M2.13 -6.31 A7.00 4.04 -60.00 0 1 -4.45 5.09 " fill="none" stroke="#000" stroke-width="0.77"/></g>
</svg>
</body></html>
